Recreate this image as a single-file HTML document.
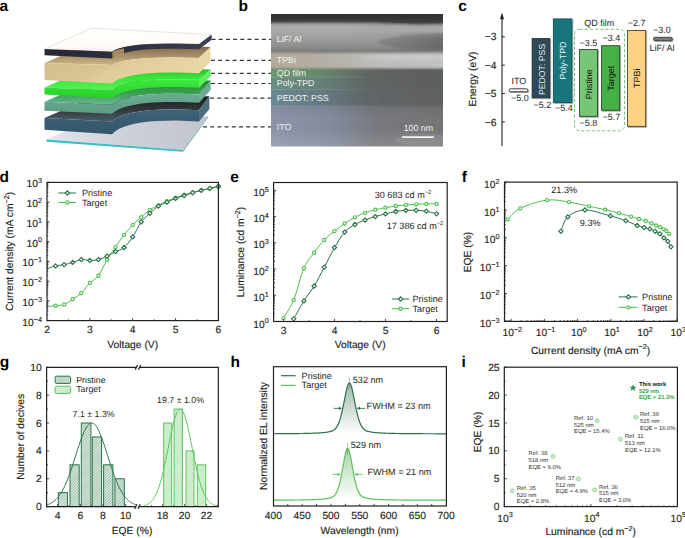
<!DOCTYPE html>
<html><head><meta charset="utf-8"><style>
html,body{margin:0;padding:0;background:#fff;width:685px;height:538px;overflow:hidden}
svg{display:block}
text{font-family:"Liberation Sans", sans-serif;text-rendering:geometricPrecision}
</style></head><body>
<svg width="685" height="538" viewBox="0 0 685 538">
<rect width="685" height="538" fill="#fff"/>
<text x="-0.6" y="181.7" font-size="15.5" font-weight="bold" fill="#000">d</text>
<path d="M47 306.4 C48.43 306.3 52.71 306.12 55.57 305.8 C58.43 305.48 61.28 305.6 64.14 304.5 C67 303.4 69.85 301.1 72.71 299.2 C75.57 297.3 78.42 295.82 81.28 293.1 C84.14 290.38 86.99 285.8 89.85 282.9 C92.71 280 95.56 279.55 98.42 275.7 C101.28 271.85 104.13 264.6 106.99 259.8 C109.85 255 112.7 251.07 115.56 246.9 C118.42 242.73 121.27 238.43 124.13 234.8 C126.99 231.17 129.84 228.03 132.7 225.1 C135.56 222.17 138.41 219.75 141.27 217.2 C144.13 214.65 146.98 211.77 149.84 209.8 C152.7 207.83 155.55 206.85 158.41 205.4 C161.27 203.95 164.12 202.37 166.98 201.1 C169.84 199.83 172.69 198.85 175.55 197.8 C178.41 196.75 181.26 195.68 184.12 194.8 C186.98 193.92 189.83 193.28 192.69 192.5 C195.55 191.72 198.4 190.75 201.26 190.1 C204.12 189.45 206.97 189.13 209.83 188.6 C212.69 188.07 216.97 187.18 218.4 186.9" fill="none" stroke="#4fbf4f" stroke-width="1"/>
<path d="M47 268.9 C48.43 268.4 52.71 266.6 55.57 265.9 C58.43 265.2 61.28 265.28 64.14 264.7 C67 264.12 69.85 263.25 72.71 262.4 C75.57 261.55 78.42 259.93 81.28 259.6 C84.14 259.27 86.99 260.4 89.85 260.4 C92.71 260.4 95.56 260.3 98.42 259.6 C101.28 258.9 104.13 257.53 106.99 256.2 C109.85 254.87 112.7 253.05 115.56 251.6 C118.42 250.15 121.27 249.95 124.13 247.5 C126.99 245.05 129.84 241.17 132.7 236.9 C135.56 232.63 138.41 225.83 141.27 221.9 C144.13 217.97 146.98 215.93 149.84 213.3 C152.7 210.67 155.55 207.95 158.41 206.1 C161.27 204.25 164.12 203.48 166.98 202.2 C169.84 200.92 172.69 199.52 175.55 198.4 C178.41 197.28 181.26 196.43 184.12 195.5 C186.98 194.57 189.83 193.65 192.69 192.8 C195.55 191.95 198.4 191.15 201.26 190.4 C204.12 189.65 206.97 189 209.83 188.3 C212.69 187.6 216.97 186.55 218.4 186.2" fill="none" stroke="#2b7249" stroke-width="1"/>
<circle cx="55.57" cy="305.8" r="1.6" fill="#fff" stroke="#4fbf4f" stroke-width="1.15"/>
<circle cx="64.14" cy="304.5" r="1.6" fill="#fff" stroke="#4fbf4f" stroke-width="1.15"/>
<circle cx="72.71" cy="299.2" r="1.6" fill="#fff" stroke="#4fbf4f" stroke-width="1.15"/>
<circle cx="81.28" cy="293.1" r="1.6" fill="#fff" stroke="#4fbf4f" stroke-width="1.15"/>
<circle cx="89.85" cy="282.9" r="1.6" fill="#fff" stroke="#4fbf4f" stroke-width="1.15"/>
<circle cx="98.42" cy="275.7" r="1.6" fill="#fff" stroke="#4fbf4f" stroke-width="1.15"/>
<circle cx="106.99" cy="259.8" r="1.6" fill="#fff" stroke="#4fbf4f" stroke-width="1.15"/>
<circle cx="115.56" cy="246.9" r="1.6" fill="#fff" stroke="#4fbf4f" stroke-width="1.15"/>
<circle cx="124.13" cy="234.8" r="1.6" fill="#fff" stroke="#4fbf4f" stroke-width="1.15"/>
<circle cx="132.7" cy="225.1" r="1.6" fill="#fff" stroke="#4fbf4f" stroke-width="1.15"/>
<circle cx="141.27" cy="217.2" r="1.6" fill="#fff" stroke="#4fbf4f" stroke-width="1.15"/>
<circle cx="149.84" cy="209.8" r="1.6" fill="#fff" stroke="#4fbf4f" stroke-width="1.15"/>
<circle cx="158.41" cy="205.4" r="1.6" fill="#fff" stroke="#4fbf4f" stroke-width="1.15"/>
<circle cx="166.98" cy="201.1" r="1.6" fill="#fff" stroke="#4fbf4f" stroke-width="1.15"/>
<circle cx="175.55" cy="197.8" r="1.6" fill="#fff" stroke="#4fbf4f" stroke-width="1.15"/>
<circle cx="184.12" cy="194.8" r="1.6" fill="#fff" stroke="#4fbf4f" stroke-width="1.15"/>
<circle cx="192.69" cy="192.5" r="1.6" fill="#fff" stroke="#4fbf4f" stroke-width="1.15"/>
<circle cx="201.26" cy="190.1" r="1.6" fill="#fff" stroke="#4fbf4f" stroke-width="1.15"/>
<circle cx="209.83" cy="188.6" r="1.6" fill="#fff" stroke="#4fbf4f" stroke-width="1.15"/>
<circle cx="218.4" cy="186.9" r="1.6" fill="#fff" stroke="#4fbf4f" stroke-width="1.15"/>
<path d="M55.57 263.8L57.67 265.9L55.57 268L53.47 265.9Z" fill="#fff" stroke="#2b7249" stroke-width="1.15"/>
<path d="M64.14 262.6L66.24 264.7L64.14 266.8L62.04 264.7Z" fill="#fff" stroke="#2b7249" stroke-width="1.15"/>
<path d="M72.71 260.3L74.81 262.4L72.71 264.5L70.61 262.4Z" fill="#fff" stroke="#2b7249" stroke-width="1.15"/>
<path d="M81.28 257.5L83.38 259.6L81.28 261.7L79.18 259.6Z" fill="#fff" stroke="#2b7249" stroke-width="1.15"/>
<path d="M89.85 258.3L91.95 260.4L89.85 262.5L87.75 260.4Z" fill="#fff" stroke="#2b7249" stroke-width="1.15"/>
<path d="M98.42 257.5L100.52 259.6L98.42 261.7L96.32 259.6Z" fill="#fff" stroke="#2b7249" stroke-width="1.15"/>
<path d="M106.99 254.1L109.09 256.2L106.99 258.3L104.89 256.2Z" fill="#fff" stroke="#2b7249" stroke-width="1.15"/>
<path d="M115.56 249.5L117.66 251.6L115.56 253.7L113.46 251.6Z" fill="#fff" stroke="#2b7249" stroke-width="1.15"/>
<path d="M124.13 245.4L126.23 247.5L124.13 249.6L122.03 247.5Z" fill="#fff" stroke="#2b7249" stroke-width="1.15"/>
<path d="M132.7 234.8L134.8 236.9L132.7 239L130.6 236.9Z" fill="#fff" stroke="#2b7249" stroke-width="1.15"/>
<path d="M141.27 219.8L143.37 221.9L141.27 224L139.17 221.9Z" fill="#fff" stroke="#2b7249" stroke-width="1.15"/>
<path d="M149.84 211.2L151.94 213.3L149.84 215.4L147.74 213.3Z" fill="#fff" stroke="#2b7249" stroke-width="1.15"/>
<path d="M158.41 204L160.51 206.1L158.41 208.2L156.31 206.1Z" fill="#fff" stroke="#2b7249" stroke-width="1.15"/>
<path d="M166.98 200.1L169.08 202.2L166.98 204.3L164.88 202.2Z" fill="#fff" stroke="#2b7249" stroke-width="1.15"/>
<path d="M175.55 196.3L177.65 198.4L175.55 200.5L173.45 198.4Z" fill="#fff" stroke="#2b7249" stroke-width="1.15"/>
<path d="M184.12 193.4L186.22 195.5L184.12 197.6L182.02 195.5Z" fill="#fff" stroke="#2b7249" stroke-width="1.15"/>
<path d="M192.69 190.7L194.79 192.8L192.69 194.9L190.59 192.8Z" fill="#fff" stroke="#2b7249" stroke-width="1.15"/>
<path d="M201.26 188.3L203.36 190.4L201.26 192.5L199.16 190.4Z" fill="#fff" stroke="#2b7249" stroke-width="1.15"/>
<path d="M209.83 186.2L211.93 188.3L209.83 190.4L207.73 188.3Z" fill="#fff" stroke="#2b7249" stroke-width="1.15"/>
<path d="M218.4 184.1L220.5 186.2L218.4 188.3L216.3 186.2Z" fill="#fff" stroke="#2b7249" stroke-width="1.15"/>
<line x1="47" y1="320.6" x2="49.5" y2="320.6" stroke="#231f20" stroke-width="0.8"/>
<line x1="47" y1="314.66" x2="48.3" y2="314.66" stroke="#231f20" stroke-width="0.8"/>
<line x1="47" y1="311.18" x2="48.3" y2="311.18" stroke="#231f20" stroke-width="0.8"/>
<line x1="47" y1="308.71" x2="48.3" y2="308.71" stroke="#231f20" stroke-width="0.8"/>
<line x1="47" y1="306.8" x2="48.3" y2="306.8" stroke="#231f20" stroke-width="0.8"/>
<line x1="47" y1="305.24" x2="48.3" y2="305.24" stroke="#231f20" stroke-width="0.8"/>
<line x1="47" y1="303.92" x2="48.3" y2="303.92" stroke="#231f20" stroke-width="0.8"/>
<line x1="47" y1="302.77" x2="48.3" y2="302.77" stroke="#231f20" stroke-width="0.8"/>
<line x1="47" y1="301.76" x2="48.3" y2="301.76" stroke="#231f20" stroke-width="0.8"/>
<line x1="47" y1="300.86" x2="49.5" y2="300.86" stroke="#231f20" stroke-width="0.8"/>
<line x1="47" y1="294.91" x2="48.3" y2="294.91" stroke="#231f20" stroke-width="0.8"/>
<line x1="47" y1="291.44" x2="48.3" y2="291.44" stroke="#231f20" stroke-width="0.8"/>
<line x1="47" y1="288.97" x2="48.3" y2="288.97" stroke="#231f20" stroke-width="0.8"/>
<line x1="47" y1="287.06" x2="48.3" y2="287.06" stroke="#231f20" stroke-width="0.8"/>
<line x1="47" y1="285.49" x2="48.3" y2="285.49" stroke="#231f20" stroke-width="0.8"/>
<line x1="47" y1="284.17" x2="48.3" y2="284.17" stroke="#231f20" stroke-width="0.8"/>
<line x1="47" y1="283.03" x2="48.3" y2="283.03" stroke="#231f20" stroke-width="0.8"/>
<line x1="47" y1="282.02" x2="48.3" y2="282.02" stroke="#231f20" stroke-width="0.8"/>
<line x1="47" y1="281.11" x2="49.5" y2="281.11" stroke="#231f20" stroke-width="0.8"/>
<line x1="47" y1="275.17" x2="48.3" y2="275.17" stroke="#231f20" stroke-width="0.8"/>
<line x1="47" y1="271.69" x2="48.3" y2="271.69" stroke="#231f20" stroke-width="0.8"/>
<line x1="47" y1="269.23" x2="48.3" y2="269.23" stroke="#231f20" stroke-width="0.8"/>
<line x1="47" y1="267.31" x2="48.3" y2="267.31" stroke="#231f20" stroke-width="0.8"/>
<line x1="47" y1="265.75" x2="48.3" y2="265.75" stroke="#231f20" stroke-width="0.8"/>
<line x1="47" y1="264.43" x2="48.3" y2="264.43" stroke="#231f20" stroke-width="0.8"/>
<line x1="47" y1="263.28" x2="48.3" y2="263.28" stroke="#231f20" stroke-width="0.8"/>
<line x1="47" y1="262.27" x2="48.3" y2="262.27" stroke="#231f20" stroke-width="0.8"/>
<line x1="47" y1="261.37" x2="49.5" y2="261.37" stroke="#231f20" stroke-width="0.8"/>
<line x1="47" y1="255.43" x2="48.3" y2="255.43" stroke="#231f20" stroke-width="0.8"/>
<line x1="47" y1="251.95" x2="48.3" y2="251.95" stroke="#231f20" stroke-width="0.8"/>
<line x1="47" y1="249.49" x2="48.3" y2="249.49" stroke="#231f20" stroke-width="0.8"/>
<line x1="47" y1="247.57" x2="48.3" y2="247.57" stroke="#231f20" stroke-width="0.8"/>
<line x1="47" y1="246.01" x2="48.3" y2="246.01" stroke="#231f20" stroke-width="0.8"/>
<line x1="47" y1="244.69" x2="48.3" y2="244.69" stroke="#231f20" stroke-width="0.8"/>
<line x1="47" y1="243.54" x2="48.3" y2="243.54" stroke="#231f20" stroke-width="0.8"/>
<line x1="47" y1="242.53" x2="48.3" y2="242.53" stroke="#231f20" stroke-width="0.8"/>
<line x1="47" y1="241.63" x2="49.5" y2="241.63" stroke="#231f20" stroke-width="0.8"/>
<line x1="47" y1="235.69" x2="48.3" y2="235.69" stroke="#231f20" stroke-width="0.8"/>
<line x1="47" y1="232.21" x2="48.3" y2="232.21" stroke="#231f20" stroke-width="0.8"/>
<line x1="47" y1="229.74" x2="48.3" y2="229.74" stroke="#231f20" stroke-width="0.8"/>
<line x1="47" y1="227.83" x2="48.3" y2="227.83" stroke="#231f20" stroke-width="0.8"/>
<line x1="47" y1="226.27" x2="48.3" y2="226.27" stroke="#231f20" stroke-width="0.8"/>
<line x1="47" y1="224.94" x2="48.3" y2="224.94" stroke="#231f20" stroke-width="0.8"/>
<line x1="47" y1="223.8" x2="48.3" y2="223.8" stroke="#231f20" stroke-width="0.8"/>
<line x1="47" y1="222.79" x2="48.3" y2="222.79" stroke="#231f20" stroke-width="0.8"/>
<line x1="47" y1="221.89" x2="49.5" y2="221.89" stroke="#231f20" stroke-width="0.8"/>
<line x1="47" y1="215.94" x2="48.3" y2="215.94" stroke="#231f20" stroke-width="0.8"/>
<line x1="47" y1="212.47" x2="48.3" y2="212.47" stroke="#231f20" stroke-width="0.8"/>
<line x1="47" y1="210" x2="48.3" y2="210" stroke="#231f20" stroke-width="0.8"/>
<line x1="47" y1="208.09" x2="48.3" y2="208.09" stroke="#231f20" stroke-width="0.8"/>
<line x1="47" y1="206.52" x2="48.3" y2="206.52" stroke="#231f20" stroke-width="0.8"/>
<line x1="47" y1="205.2" x2="48.3" y2="205.2" stroke="#231f20" stroke-width="0.8"/>
<line x1="47" y1="204.06" x2="48.3" y2="204.06" stroke="#231f20" stroke-width="0.8"/>
<line x1="47" y1="203.05" x2="48.3" y2="203.05" stroke="#231f20" stroke-width="0.8"/>
<line x1="47" y1="202.14" x2="49.5" y2="202.14" stroke="#231f20" stroke-width="0.8"/>
<line x1="47" y1="196.2" x2="48.3" y2="196.2" stroke="#231f20" stroke-width="0.8"/>
<line x1="47" y1="192.72" x2="48.3" y2="192.72" stroke="#231f20" stroke-width="0.8"/>
<line x1="47" y1="190.26" x2="48.3" y2="190.26" stroke="#231f20" stroke-width="0.8"/>
<line x1="47" y1="188.34" x2="48.3" y2="188.34" stroke="#231f20" stroke-width="0.8"/>
<line x1="47" y1="186.78" x2="48.3" y2="186.78" stroke="#231f20" stroke-width="0.8"/>
<line x1="47" y1="185.46" x2="48.3" y2="185.46" stroke="#231f20" stroke-width="0.8"/>
<line x1="47" y1="184.31" x2="48.3" y2="184.31" stroke="#231f20" stroke-width="0.8"/>
<line x1="47" y1="183.3" x2="48.3" y2="183.3" stroke="#231f20" stroke-width="0.8"/>
<line x1="47" y1="182.4" x2="49.5" y2="182.4" stroke="#231f20" stroke-width="0.8"/>
<line x1="68.42" y1="320.6" x2="68.42" y2="319.3" stroke="#231f20" stroke-width="0.8"/>
<line x1="89.85" y1="320.6" x2="89.85" y2="318.1" stroke="#231f20" stroke-width="0.8"/>
<line x1="111.28" y1="320.6" x2="111.28" y2="319.3" stroke="#231f20" stroke-width="0.8"/>
<line x1="132.7" y1="320.6" x2="132.7" y2="318.1" stroke="#231f20" stroke-width="0.8"/>
<line x1="154.12" y1="320.6" x2="154.12" y2="319.3" stroke="#231f20" stroke-width="0.8"/>
<line x1="175.55" y1="320.6" x2="175.55" y2="318.1" stroke="#231f20" stroke-width="0.8"/>
<line x1="196.97" y1="320.6" x2="196.97" y2="319.3" stroke="#231f20" stroke-width="0.8"/>
<line x1="218.4" y1="320.6" x2="218.4" y2="318.1" stroke="#231f20" stroke-width="0.8"/>
<rect x="47" y="182.4" width="171.4" height="138.2" fill="none" stroke="#231f20" stroke-width="1.2"/>
<text x="42" y="326.03" font-size="10.3" text-anchor="end" fill="#231f20" stroke="#231f20" stroke-width="0.15">10<tspan dy="-4.1" font-size="7.2">&#8722;4</tspan></text>
<text x="42" y="306.15" font-size="10.3" text-anchor="end" fill="#231f20" stroke="#231f20" stroke-width="0.15">10<tspan dy="-4.1" font-size="7.2">&#8722;3</tspan></text>
<text x="42" y="286.26" font-size="10.3" text-anchor="end" fill="#231f20" stroke="#231f20" stroke-width="0.15">10<tspan dy="-4.1" font-size="7.2">&#8722;2</tspan></text>
<text x="42" y="266.38" font-size="10.3" text-anchor="end" fill="#231f20" stroke="#231f20" stroke-width="0.15">10<tspan dy="-4.1" font-size="7.2">&#8722;1</tspan></text>
<text x="42" y="246.5" font-size="10.3" text-anchor="end" fill="#231f20" stroke="#231f20" stroke-width="0.15">10<tspan dy="-4.1" font-size="7.2">0</tspan></text>
<text x="42" y="226.62" font-size="10.3" text-anchor="end" fill="#231f20" stroke="#231f20" stroke-width="0.15">10<tspan dy="-4.1" font-size="7.2">1</tspan></text>
<text x="42" y="206.73" font-size="10.3" text-anchor="end" fill="#231f20" stroke="#231f20" stroke-width="0.15">10<tspan dy="-4.1" font-size="7.2">2</tspan></text>
<text x="42" y="186.85" font-size="10.3" text-anchor="end" fill="#231f20" stroke="#231f20" stroke-width="0.15">10<tspan dy="-4.1" font-size="7.2">3</tspan></text>
<text x="47" y="333.1" font-size="10.3" text-anchor="middle" fill="#231f20" stroke="#231f20" stroke-width="0.15">2</text>
<text x="89.85" y="333.1" font-size="10.3" text-anchor="middle" fill="#231f20" stroke="#231f20" stroke-width="0.15">3</text>
<text x="132.7" y="333.1" font-size="10.3" text-anchor="middle" fill="#231f20" stroke="#231f20" stroke-width="0.15">4</text>
<text x="175.55" y="333.1" font-size="10.3" text-anchor="middle" fill="#231f20" stroke="#231f20" stroke-width="0.15">5</text>
<text x="218.4" y="333.1" font-size="10.3" text-anchor="middle" fill="#231f20" stroke="#231f20" stroke-width="0.15">6</text>
<text x="132.7" y="347.6" font-size="10.3" text-anchor="middle" fill="#231f20" stroke="#231f20" stroke-width="0.15">Voltage (V)</text>
<text x="13" y="251.5" font-size="10.3" text-anchor="middle" fill="#231f20" stroke="#231f20" stroke-width="0.15" transform="rotate(-90 13 251.5)">Current density (mA cm<tspan dy="-4.1" font-size="7.2">&#8722;2</tspan><tspan dy="4.1">)</tspan></text>
<line x1="58.4" y1="193" x2="76.1" y2="193" stroke="#2b7249" stroke-width="1"/>
<path d="M67.4 190.9L69.5 193L67.4 195.1L65.3 193Z" fill="#fff" stroke="#2b7249" stroke-width="1.15"/>
<text x="81.9" y="196.1" font-size="9.1" fill="#231f20">Pristine</text>
<line x1="58.4" y1="202.5" x2="76.1" y2="202.5" stroke="#4fbf4f" stroke-width="1"/>
<circle cx="67.4" cy="202.5" r="1.6" fill="#fff" stroke="#4fbf4f" stroke-width="1.15"/>
<text x="81.9" y="205.6" font-size="9.1" fill="#231f20">Target</text>
<text x="230.2" y="181.7" font-size="15.5" font-weight="bold" fill="#000">e</text>
<path d="M283.5 318.1 C285.2 315.07 290.3 308.22 293.7 299.9 C297.1 291.58 300.5 276.07 303.9 268.2 C307.3 260.33 310.7 257.4 314.1 252.7 C317.5 248 320.9 243.6 324.3 240 C327.7 236.4 331.1 233.85 334.5 231.1 C337.9 228.35 341.3 225.8 344.7 223.5 C348.1 221.2 351.5 219.08 354.9 217.3 C358.3 215.52 361.7 214.07 365.1 212.8 C368.5 211.53 371.9 210.55 375.3 209.7 C378.7 208.85 382.1 208.32 385.5 207.7 C388.9 207.08 392.3 206.47 395.7 206 C399.1 205.53 402.5 205.18 405.9 204.9 C409.3 204.62 412.7 204.48 416.1 204.3 C419.5 204.12 422.9 203.88 426.3 203.8 C429.7 203.72 434.8 203.8 436.5 203.8" fill="none" stroke="#4fbf4f" stroke-width="1"/>
<path d="M293.7 318.8 C295.4 315.82 300.5 306.35 303.9 300.9 C307.3 295.45 310.7 291.72 314.1 286.1 C317.5 280.48 320.9 273.62 324.3 267.2 C327.7 260.78 331.1 253.45 334.5 247.6 C337.9 241.75 341.3 235.95 344.7 232.1 C348.1 228.25 351.5 226.5 354.9 224.5 C358.3 222.5 361.7 221.42 365.1 220.1 C368.5 218.78 371.9 217.63 375.3 216.6 C378.7 215.57 382.1 214.75 385.5 213.9 C388.9 213.05 392.3 212.08 395.7 211.5 C399.1 210.92 402.5 210.6 405.9 210.4 C409.3 210.2 412.7 210.17 416.1 210.3 C419.5 210.43 422.9 210.62 426.3 211.2 C429.7 211.78 434.8 213.37 436.5 213.8" fill="none" stroke="#2b7249" stroke-width="1"/>
<circle cx="283.5" cy="318.1" r="1.6" fill="#fff" stroke="#4fbf4f" stroke-width="1.15"/>
<circle cx="293.7" cy="299.9" r="1.6" fill="#fff" stroke="#4fbf4f" stroke-width="1.15"/>
<circle cx="303.9" cy="268.2" r="1.6" fill="#fff" stroke="#4fbf4f" stroke-width="1.15"/>
<circle cx="314.1" cy="252.7" r="1.6" fill="#fff" stroke="#4fbf4f" stroke-width="1.15"/>
<circle cx="324.3" cy="240" r="1.6" fill="#fff" stroke="#4fbf4f" stroke-width="1.15"/>
<circle cx="334.5" cy="231.1" r="1.6" fill="#fff" stroke="#4fbf4f" stroke-width="1.15"/>
<circle cx="344.7" cy="223.5" r="1.6" fill="#fff" stroke="#4fbf4f" stroke-width="1.15"/>
<circle cx="354.9" cy="217.3" r="1.6" fill="#fff" stroke="#4fbf4f" stroke-width="1.15"/>
<circle cx="365.1" cy="212.8" r="1.6" fill="#fff" stroke="#4fbf4f" stroke-width="1.15"/>
<circle cx="375.3" cy="209.7" r="1.6" fill="#fff" stroke="#4fbf4f" stroke-width="1.15"/>
<circle cx="385.5" cy="207.7" r="1.6" fill="#fff" stroke="#4fbf4f" stroke-width="1.15"/>
<circle cx="395.7" cy="206" r="1.6" fill="#fff" stroke="#4fbf4f" stroke-width="1.15"/>
<circle cx="405.9" cy="204.9" r="1.6" fill="#fff" stroke="#4fbf4f" stroke-width="1.15"/>
<circle cx="416.1" cy="204.3" r="1.6" fill="#fff" stroke="#4fbf4f" stroke-width="1.15"/>
<circle cx="426.3" cy="203.8" r="1.6" fill="#fff" stroke="#4fbf4f" stroke-width="1.15"/>
<circle cx="436.5" cy="203.8" r="1.6" fill="#fff" stroke="#4fbf4f" stroke-width="1.15"/>
<path d="M293.7 316.7L295.8 318.8L293.7 320.9L291.6 318.8Z" fill="#fff" stroke="#2b7249" stroke-width="1.15"/>
<path d="M303.9 298.8L306 300.9L303.9 303L301.8 300.9Z" fill="#fff" stroke="#2b7249" stroke-width="1.15"/>
<path d="M314.1 284L316.2 286.1L314.1 288.2L312 286.1Z" fill="#fff" stroke="#2b7249" stroke-width="1.15"/>
<path d="M324.3 265.1L326.4 267.2L324.3 269.3L322.2 267.2Z" fill="#fff" stroke="#2b7249" stroke-width="1.15"/>
<path d="M334.5 245.5L336.6 247.6L334.5 249.7L332.4 247.6Z" fill="#fff" stroke="#2b7249" stroke-width="1.15"/>
<path d="M344.7 230L346.8 232.1L344.7 234.2L342.6 232.1Z" fill="#fff" stroke="#2b7249" stroke-width="1.15"/>
<path d="M354.9 222.4L357 224.5L354.9 226.6L352.8 224.5Z" fill="#fff" stroke="#2b7249" stroke-width="1.15"/>
<path d="M365.1 218L367.2 220.1L365.1 222.2L363 220.1Z" fill="#fff" stroke="#2b7249" stroke-width="1.15"/>
<path d="M375.3 214.5L377.4 216.6L375.3 218.7L373.2 216.6Z" fill="#fff" stroke="#2b7249" stroke-width="1.15"/>
<path d="M385.5 211.8L387.6 213.9L385.5 216L383.4 213.9Z" fill="#fff" stroke="#2b7249" stroke-width="1.15"/>
<path d="M395.7 209.4L397.8 211.5L395.7 213.6L393.6 211.5Z" fill="#fff" stroke="#2b7249" stroke-width="1.15"/>
<path d="M405.9 208.3L408 210.4L405.9 212.5L403.8 210.4Z" fill="#fff" stroke="#2b7249" stroke-width="1.15"/>
<path d="M416.1 208.2L418.2 210.3L416.1 212.4L414 210.3Z" fill="#fff" stroke="#2b7249" stroke-width="1.15"/>
<path d="M426.3 209.1L428.4 211.2L426.3 213.3L424.2 211.2Z" fill="#fff" stroke="#2b7249" stroke-width="1.15"/>
<path d="M436.5 211.7L438.6 213.8L436.5 215.9L434.4 213.8Z" fill="#fff" stroke="#2b7249" stroke-width="1.15"/>
<line x1="273.6" y1="321.5" x2="276.1" y2="321.5" stroke="#231f20" stroke-width="0.8"/>
<line x1="273.6" y1="313.61" x2="274.9" y2="313.61" stroke="#231f20" stroke-width="0.8"/>
<line x1="273.6" y1="308.99" x2="274.9" y2="308.99" stroke="#231f20" stroke-width="0.8"/>
<line x1="273.6" y1="305.71" x2="274.9" y2="305.71" stroke="#231f20" stroke-width="0.8"/>
<line x1="273.6" y1="303.17" x2="274.9" y2="303.17" stroke="#231f20" stroke-width="0.8"/>
<line x1="273.6" y1="301.1" x2="274.9" y2="301.1" stroke="#231f20" stroke-width="0.8"/>
<line x1="273.6" y1="299.34" x2="274.9" y2="299.34" stroke="#231f20" stroke-width="0.8"/>
<line x1="273.6" y1="297.82" x2="274.9" y2="297.82" stroke="#231f20" stroke-width="0.8"/>
<line x1="273.6" y1="296.48" x2="274.9" y2="296.48" stroke="#231f20" stroke-width="0.8"/>
<line x1="273.6" y1="295.28" x2="276.1" y2="295.28" stroke="#231f20" stroke-width="0.8"/>
<line x1="273.6" y1="287.39" x2="274.9" y2="287.39" stroke="#231f20" stroke-width="0.8"/>
<line x1="273.6" y1="282.77" x2="274.9" y2="282.77" stroke="#231f20" stroke-width="0.8"/>
<line x1="273.6" y1="279.49" x2="274.9" y2="279.49" stroke="#231f20" stroke-width="0.8"/>
<line x1="273.6" y1="276.95" x2="274.9" y2="276.95" stroke="#231f20" stroke-width="0.8"/>
<line x1="273.6" y1="274.88" x2="274.9" y2="274.88" stroke="#231f20" stroke-width="0.8"/>
<line x1="273.6" y1="273.12" x2="274.9" y2="273.12" stroke="#231f20" stroke-width="0.8"/>
<line x1="273.6" y1="271.6" x2="274.9" y2="271.6" stroke="#231f20" stroke-width="0.8"/>
<line x1="273.6" y1="270.26" x2="274.9" y2="270.26" stroke="#231f20" stroke-width="0.8"/>
<line x1="273.6" y1="269.06" x2="276.1" y2="269.06" stroke="#231f20" stroke-width="0.8"/>
<line x1="273.6" y1="261.17" x2="274.9" y2="261.17" stroke="#231f20" stroke-width="0.8"/>
<line x1="273.6" y1="256.55" x2="274.9" y2="256.55" stroke="#231f20" stroke-width="0.8"/>
<line x1="273.6" y1="253.27" x2="274.9" y2="253.27" stroke="#231f20" stroke-width="0.8"/>
<line x1="273.6" y1="250.73" x2="274.9" y2="250.73" stroke="#231f20" stroke-width="0.8"/>
<line x1="273.6" y1="248.66" x2="274.9" y2="248.66" stroke="#231f20" stroke-width="0.8"/>
<line x1="273.6" y1="246.9" x2="274.9" y2="246.9" stroke="#231f20" stroke-width="0.8"/>
<line x1="273.6" y1="245.38" x2="274.9" y2="245.38" stroke="#231f20" stroke-width="0.8"/>
<line x1="273.6" y1="244.04" x2="274.9" y2="244.04" stroke="#231f20" stroke-width="0.8"/>
<line x1="273.6" y1="242.84" x2="276.1" y2="242.84" stroke="#231f20" stroke-width="0.8"/>
<line x1="273.6" y1="234.95" x2="274.9" y2="234.95" stroke="#231f20" stroke-width="0.8"/>
<line x1="273.6" y1="230.33" x2="274.9" y2="230.33" stroke="#231f20" stroke-width="0.8"/>
<line x1="273.6" y1="227.05" x2="274.9" y2="227.05" stroke="#231f20" stroke-width="0.8"/>
<line x1="273.6" y1="224.51" x2="274.9" y2="224.51" stroke="#231f20" stroke-width="0.8"/>
<line x1="273.6" y1="222.44" x2="274.9" y2="222.44" stroke="#231f20" stroke-width="0.8"/>
<line x1="273.6" y1="220.68" x2="274.9" y2="220.68" stroke="#231f20" stroke-width="0.8"/>
<line x1="273.6" y1="219.16" x2="274.9" y2="219.16" stroke="#231f20" stroke-width="0.8"/>
<line x1="273.6" y1="217.82" x2="274.9" y2="217.82" stroke="#231f20" stroke-width="0.8"/>
<line x1="273.6" y1="216.62" x2="276.1" y2="216.62" stroke="#231f20" stroke-width="0.8"/>
<line x1="273.6" y1="208.73" x2="274.9" y2="208.73" stroke="#231f20" stroke-width="0.8"/>
<line x1="273.6" y1="204.11" x2="274.9" y2="204.11" stroke="#231f20" stroke-width="0.8"/>
<line x1="273.6" y1="200.83" x2="274.9" y2="200.83" stroke="#231f20" stroke-width="0.8"/>
<line x1="273.6" y1="198.29" x2="274.9" y2="198.29" stroke="#231f20" stroke-width="0.8"/>
<line x1="273.6" y1="196.22" x2="274.9" y2="196.22" stroke="#231f20" stroke-width="0.8"/>
<line x1="273.6" y1="194.46" x2="274.9" y2="194.46" stroke="#231f20" stroke-width="0.8"/>
<line x1="273.6" y1="192.94" x2="274.9" y2="192.94" stroke="#231f20" stroke-width="0.8"/>
<line x1="273.6" y1="191.6" x2="274.9" y2="191.6" stroke="#231f20" stroke-width="0.8"/>
<line x1="273.6" y1="190.4" x2="276.1" y2="190.4" stroke="#231f20" stroke-width="0.8"/>
<line x1="283.5" y1="321.5" x2="283.5" y2="319" stroke="#231f20" stroke-width="0.8"/>
<line x1="309" y1="321.5" x2="309" y2="320.2" stroke="#231f20" stroke-width="0.8"/>
<line x1="334.5" y1="321.5" x2="334.5" y2="319" stroke="#231f20" stroke-width="0.8"/>
<line x1="360" y1="321.5" x2="360" y2="320.2" stroke="#231f20" stroke-width="0.8"/>
<line x1="385.5" y1="321.5" x2="385.5" y2="319" stroke="#231f20" stroke-width="0.8"/>
<line x1="411" y1="321.5" x2="411" y2="320.2" stroke="#231f20" stroke-width="0.8"/>
<line x1="436.5" y1="321.5" x2="436.5" y2="319" stroke="#231f20" stroke-width="0.8"/>
<rect x="273.6" y="182.5" width="173.6" height="139" fill="none" stroke="#231f20" stroke-width="1.2"/>
<text x="268.8" y="327.5" font-size="10.3" text-anchor="end" fill="#231f20" stroke="#231f20" stroke-width="0.15">10<tspan dy="-4.1" font-size="7.2">0</tspan></text>
<text x="268.8" y="301.14" font-size="10.3" text-anchor="end" fill="#231f20" stroke="#231f20" stroke-width="0.15">10<tspan dy="-4.1" font-size="7.2">1</tspan></text>
<text x="268.8" y="274.78" font-size="10.3" text-anchor="end" fill="#231f20" stroke="#231f20" stroke-width="0.15">10<tspan dy="-4.1" font-size="7.2">2</tspan></text>
<text x="268.8" y="248.42" font-size="10.3" text-anchor="end" fill="#231f20" stroke="#231f20" stroke-width="0.15">10<tspan dy="-4.1" font-size="7.2">3</tspan></text>
<text x="268.8" y="222.06" font-size="10.3" text-anchor="end" fill="#231f20" stroke="#231f20" stroke-width="0.15">10<tspan dy="-4.1" font-size="7.2">4</tspan></text>
<text x="268.8" y="195.7" font-size="10.3" text-anchor="end" fill="#231f20" stroke="#231f20" stroke-width="0.15">10<tspan dy="-4.1" font-size="7.2">5</tspan></text>
<text x="283.5" y="333.6" font-size="10.3" text-anchor="middle" fill="#231f20" stroke="#231f20" stroke-width="0.15">3</text>
<text x="334.5" y="333.6" font-size="10.3" text-anchor="middle" fill="#231f20" stroke="#231f20" stroke-width="0.15">4</text>
<text x="385.5" y="333.6" font-size="10.3" text-anchor="middle" fill="#231f20" stroke="#231f20" stroke-width="0.15">5</text>
<text x="436.5" y="333.6" font-size="10.3" text-anchor="middle" fill="#231f20" stroke="#231f20" stroke-width="0.15">6</text>
<text x="360.2" y="347.6" font-size="10.3" text-anchor="middle" fill="#231f20" stroke="#231f20" stroke-width="0.15">Voltage (V)</text>
<text x="244" y="252" font-size="10.3" text-anchor="middle" fill="#231f20" stroke="#231f20" stroke-width="0.15" transform="rotate(-90 244 252)">Luminance (cd m<tspan dy="-4.1" font-size="7.2">&#8722;2</tspan><tspan dy="4.1">)</tspan></text>
<text x="374.7" y="197.7" font-size="9.1" fill="#231f20">30 683 cd m<tspan dy="-3.6" font-size="5.8">&#8722;2</tspan></text>
<text x="386.7" y="228.7" font-size="9.1" fill="#231f20">17 386 cd m<tspan dy="-3.6" font-size="5.8">&#8722;2</tspan></text>
<line x1="391.9" y1="299" x2="409.1" y2="299" stroke="#2b7249" stroke-width="1"/>
<path d="M400.5 296.9L402.6 299L400.5 301.1L398.4 299Z" fill="#fff" stroke="#2b7249" stroke-width="1.15"/>
<text x="412.5" y="302.1" font-size="9.1" fill="#231f20">Pristine</text>
<line x1="391.9" y1="308.7" x2="409.1" y2="308.7" stroke="#4fbf4f" stroke-width="1"/>
<circle cx="400.5" cy="308.7" r="1.6" fill="#fff" stroke="#4fbf4f" stroke-width="1.15"/>
<text x="412.5" y="311.8" font-size="9.1" fill="#231f20">Target</text>
<text x="461.8" y="181.7" font-size="15.5" font-weight="bold" fill="#000">f</text>
<path d="M507.6 219.3 C509.72 217.47 513.72 211.5 520.3 208.3 C526.88 205.1 538.97 201.13 547.1 200.1 C555.23 199.07 562.1 201.07 569.1 202.1 C576.1 203.13 583.08 205.03 589.1 206.3 C595.12 207.57 600.22 208.57 605.2 209.7 C610.18 210.83 614.7 211.95 619 213.1 C623.3 214.25 627.68 215.62 631 216.6 C634.32 217.58 636.43 218.27 638.9 219 C641.37 219.73 643.68 220.27 645.8 221 C647.92 221.73 649.88 222.65 651.6 223.4 C653.32 224.15 654.67 224.87 656.1 225.5 C657.53 226.13 658.93 226.57 660.2 227.2 C661.47 227.83 662.67 228.67 663.7 229.3 C664.73 229.93 665.48 230.25 666.4 231 C667.32 231.75 668.73 233.33 669.2 233.8" fill="none" stroke="#4fbf4f" stroke-width="1"/>
<path d="M560.9 231.3 C562.05 228.9 563.8 220.45 567.8 216.9 C571.8 213.35 577.8 210.17 584.9 210 C592 209.83 603.58 214.12 610.4 215.9 C617.22 217.68 621.33 219.1 625.8 220.7 C630.27 222.3 634.15 224.35 637.2 225.5 C640.25 226.65 641.98 227.03 644.1 227.6 C646.22 228.17 648.07 228.28 649.9 228.9 C651.73 229.52 653.43 230.48 655.1 231.3 C656.77 232.12 658.42 232.7 659.9 233.8 C661.38 234.9 662.68 236.65 664 237.9 C665.32 239.15 666.65 239.82 667.8 241.3 C668.95 242.78 670.38 245.88 670.9 246.8" fill="none" stroke="#2b7249" stroke-width="1"/>
<circle cx="507.6" cy="219.3" r="1.6" fill="#fff" stroke="#4fbf4f" stroke-width="1.15"/>
<circle cx="520.3" cy="208.3" r="1.6" fill="#fff" stroke="#4fbf4f" stroke-width="1.15"/>
<circle cx="547.1" cy="200.1" r="1.6" fill="#fff" stroke="#4fbf4f" stroke-width="1.15"/>
<circle cx="569.1" cy="202.1" r="1.6" fill="#fff" stroke="#4fbf4f" stroke-width="1.15"/>
<circle cx="589.1" cy="206.3" r="1.6" fill="#fff" stroke="#4fbf4f" stroke-width="1.15"/>
<circle cx="605.2" cy="209.7" r="1.6" fill="#fff" stroke="#4fbf4f" stroke-width="1.15"/>
<circle cx="619" cy="213.1" r="1.6" fill="#fff" stroke="#4fbf4f" stroke-width="1.15"/>
<circle cx="631" cy="216.6" r="1.6" fill="#fff" stroke="#4fbf4f" stroke-width="1.15"/>
<circle cx="638.9" cy="219" r="1.6" fill="#fff" stroke="#4fbf4f" stroke-width="1.15"/>
<circle cx="645.8" cy="221" r="1.6" fill="#fff" stroke="#4fbf4f" stroke-width="1.15"/>
<circle cx="651.6" cy="223.4" r="1.6" fill="#fff" stroke="#4fbf4f" stroke-width="1.15"/>
<circle cx="656.1" cy="225.5" r="1.6" fill="#fff" stroke="#4fbf4f" stroke-width="1.15"/>
<circle cx="660.2" cy="227.2" r="1.6" fill="#fff" stroke="#4fbf4f" stroke-width="1.15"/>
<circle cx="663.7" cy="229.3" r="1.6" fill="#fff" stroke="#4fbf4f" stroke-width="1.15"/>
<circle cx="666.4" cy="231" r="1.6" fill="#fff" stroke="#4fbf4f" stroke-width="1.15"/>
<circle cx="669.2" cy="233.8" r="1.6" fill="#fff" stroke="#4fbf4f" stroke-width="1.15"/>
<path d="M560.9 229.2L563 231.3L560.9 233.4L558.8 231.3Z" fill="#fff" stroke="#2b7249" stroke-width="1.15"/>
<path d="M567.8 214.8L569.9 216.9L567.8 219L565.7 216.9Z" fill="#fff" stroke="#2b7249" stroke-width="1.15"/>
<path d="M584.9 207.9L587 210L584.9 212.1L582.8 210Z" fill="#fff" stroke="#2b7249" stroke-width="1.15"/>
<path d="M610.4 213.8L612.5 215.9L610.4 218L608.3 215.9Z" fill="#fff" stroke="#2b7249" stroke-width="1.15"/>
<path d="M625.8 218.6L627.9 220.7L625.8 222.8L623.7 220.7Z" fill="#fff" stroke="#2b7249" stroke-width="1.15"/>
<path d="M637.2 223.4L639.3 225.5L637.2 227.6L635.1 225.5Z" fill="#fff" stroke="#2b7249" stroke-width="1.15"/>
<path d="M644.1 225.5L646.2 227.6L644.1 229.7L642 227.6Z" fill="#fff" stroke="#2b7249" stroke-width="1.15"/>
<path d="M649.9 226.8L652 228.9L649.9 231L647.8 228.9Z" fill="#fff" stroke="#2b7249" stroke-width="1.15"/>
<path d="M655.1 229.2L657.2 231.3L655.1 233.4L653 231.3Z" fill="#fff" stroke="#2b7249" stroke-width="1.15"/>
<path d="M659.9 231.7L662 233.8L659.9 235.9L657.8 233.8Z" fill="#fff" stroke="#2b7249" stroke-width="1.15"/>
<path d="M664 235.8L666.1 237.9L664 240L661.9 237.9Z" fill="#fff" stroke="#2b7249" stroke-width="1.15"/>
<path d="M667.8 239.2L669.9 241.3L667.8 243.4L665.7 241.3Z" fill="#fff" stroke="#2b7249" stroke-width="1.15"/>
<path d="M670.9 244.7L673 246.8L670.9 248.9L668.8 246.8Z" fill="#fff" stroke="#2b7249" stroke-width="1.15"/>
<line x1="504.5" y1="321.4" x2="507" y2="321.4" stroke="#231f20" stroke-width="0.8"/>
<line x1="504.5" y1="313.01" x2="505.8" y2="313.01" stroke="#231f20" stroke-width="0.8"/>
<line x1="504.5" y1="308.11" x2="505.8" y2="308.11" stroke="#231f20" stroke-width="0.8"/>
<line x1="504.5" y1="304.63" x2="505.8" y2="304.63" stroke="#231f20" stroke-width="0.8"/>
<line x1="504.5" y1="301.93" x2="505.8" y2="301.93" stroke="#231f20" stroke-width="0.8"/>
<line x1="504.5" y1="299.72" x2="505.8" y2="299.72" stroke="#231f20" stroke-width="0.8"/>
<line x1="504.5" y1="297.86" x2="505.8" y2="297.86" stroke="#231f20" stroke-width="0.8"/>
<line x1="504.5" y1="296.24" x2="505.8" y2="296.24" stroke="#231f20" stroke-width="0.8"/>
<line x1="504.5" y1="294.81" x2="505.8" y2="294.81" stroke="#231f20" stroke-width="0.8"/>
<line x1="504.5" y1="293.54" x2="507" y2="293.54" stroke="#231f20" stroke-width="0.8"/>
<line x1="504.5" y1="285.15" x2="505.8" y2="285.15" stroke="#231f20" stroke-width="0.8"/>
<line x1="504.5" y1="280.25" x2="505.8" y2="280.25" stroke="#231f20" stroke-width="0.8"/>
<line x1="504.5" y1="276.77" x2="505.8" y2="276.77" stroke="#231f20" stroke-width="0.8"/>
<line x1="504.5" y1="274.07" x2="505.8" y2="274.07" stroke="#231f20" stroke-width="0.8"/>
<line x1="504.5" y1="271.86" x2="505.8" y2="271.86" stroke="#231f20" stroke-width="0.8"/>
<line x1="504.5" y1="270" x2="505.8" y2="270" stroke="#231f20" stroke-width="0.8"/>
<line x1="504.5" y1="268.38" x2="505.8" y2="268.38" stroke="#231f20" stroke-width="0.8"/>
<line x1="504.5" y1="266.95" x2="505.8" y2="266.95" stroke="#231f20" stroke-width="0.8"/>
<line x1="504.5" y1="265.68" x2="507" y2="265.68" stroke="#231f20" stroke-width="0.8"/>
<line x1="504.5" y1="257.29" x2="505.8" y2="257.29" stroke="#231f20" stroke-width="0.8"/>
<line x1="504.5" y1="252.39" x2="505.8" y2="252.39" stroke="#231f20" stroke-width="0.8"/>
<line x1="504.5" y1="248.91" x2="505.8" y2="248.91" stroke="#231f20" stroke-width="0.8"/>
<line x1="504.5" y1="246.21" x2="505.8" y2="246.21" stroke="#231f20" stroke-width="0.8"/>
<line x1="504.5" y1="244" x2="505.8" y2="244" stroke="#231f20" stroke-width="0.8"/>
<line x1="504.5" y1="242.14" x2="505.8" y2="242.14" stroke="#231f20" stroke-width="0.8"/>
<line x1="504.5" y1="240.52" x2="505.8" y2="240.52" stroke="#231f20" stroke-width="0.8"/>
<line x1="504.5" y1="239.09" x2="505.8" y2="239.09" stroke="#231f20" stroke-width="0.8"/>
<line x1="504.5" y1="237.82" x2="507" y2="237.82" stroke="#231f20" stroke-width="0.8"/>
<line x1="504.5" y1="229.43" x2="505.8" y2="229.43" stroke="#231f20" stroke-width="0.8"/>
<line x1="504.5" y1="224.53" x2="505.8" y2="224.53" stroke="#231f20" stroke-width="0.8"/>
<line x1="504.5" y1="221.05" x2="505.8" y2="221.05" stroke="#231f20" stroke-width="0.8"/>
<line x1="504.5" y1="218.35" x2="505.8" y2="218.35" stroke="#231f20" stroke-width="0.8"/>
<line x1="504.5" y1="216.14" x2="505.8" y2="216.14" stroke="#231f20" stroke-width="0.8"/>
<line x1="504.5" y1="214.28" x2="505.8" y2="214.28" stroke="#231f20" stroke-width="0.8"/>
<line x1="504.5" y1="212.66" x2="505.8" y2="212.66" stroke="#231f20" stroke-width="0.8"/>
<line x1="504.5" y1="211.23" x2="505.8" y2="211.23" stroke="#231f20" stroke-width="0.8"/>
<line x1="504.5" y1="209.96" x2="507" y2="209.96" stroke="#231f20" stroke-width="0.8"/>
<line x1="504.5" y1="201.57" x2="505.8" y2="201.57" stroke="#231f20" stroke-width="0.8"/>
<line x1="504.5" y1="196.67" x2="505.8" y2="196.67" stroke="#231f20" stroke-width="0.8"/>
<line x1="504.5" y1="193.19" x2="505.8" y2="193.19" stroke="#231f20" stroke-width="0.8"/>
<line x1="504.5" y1="190.49" x2="505.8" y2="190.49" stroke="#231f20" stroke-width="0.8"/>
<line x1="504.5" y1="188.28" x2="505.8" y2="188.28" stroke="#231f20" stroke-width="0.8"/>
<line x1="504.5" y1="186.42" x2="505.8" y2="186.42" stroke="#231f20" stroke-width="0.8"/>
<line x1="504.5" y1="184.8" x2="505.8" y2="184.8" stroke="#231f20" stroke-width="0.8"/>
<line x1="504.5" y1="183.37" x2="505.8" y2="183.37" stroke="#231f20" stroke-width="0.8"/>
<line x1="504.5" y1="182.1" x2="507" y2="182.1" stroke="#231f20" stroke-width="0.8"/>
<line x1="506.06" y1="321.4" x2="506.06" y2="320.1" stroke="#231f20" stroke-width="0.8"/>
<line x1="507.98" y1="321.4" x2="507.98" y2="320.1" stroke="#231f20" stroke-width="0.8"/>
<line x1="509.68" y1="321.4" x2="509.68" y2="320.1" stroke="#231f20" stroke-width="0.8"/>
<line x1="511.2" y1="321.4" x2="511.2" y2="318.9" stroke="#231f20" stroke-width="0.8"/>
<line x1="521.19" y1="321.4" x2="521.19" y2="320.1" stroke="#231f20" stroke-width="0.8"/>
<line x1="527.04" y1="321.4" x2="527.04" y2="320.1" stroke="#231f20" stroke-width="0.8"/>
<line x1="531.19" y1="321.4" x2="531.19" y2="320.1" stroke="#231f20" stroke-width="0.8"/>
<line x1="534.41" y1="321.4" x2="534.41" y2="320.1" stroke="#231f20" stroke-width="0.8"/>
<line x1="537.03" y1="321.4" x2="537.03" y2="320.1" stroke="#231f20" stroke-width="0.8"/>
<line x1="539.26" y1="321.4" x2="539.26" y2="320.1" stroke="#231f20" stroke-width="0.8"/>
<line x1="541.18" y1="321.4" x2="541.18" y2="320.1" stroke="#231f20" stroke-width="0.8"/>
<line x1="542.88" y1="321.4" x2="542.88" y2="320.1" stroke="#231f20" stroke-width="0.8"/>
<line x1="544.4" y1="321.4" x2="544.4" y2="318.9" stroke="#231f20" stroke-width="0.8"/>
<line x1="554.39" y1="321.4" x2="554.39" y2="320.1" stroke="#231f20" stroke-width="0.8"/>
<line x1="560.24" y1="321.4" x2="560.24" y2="320.1" stroke="#231f20" stroke-width="0.8"/>
<line x1="564.39" y1="321.4" x2="564.39" y2="320.1" stroke="#231f20" stroke-width="0.8"/>
<line x1="567.61" y1="321.4" x2="567.61" y2="320.1" stroke="#231f20" stroke-width="0.8"/>
<line x1="570.23" y1="321.4" x2="570.23" y2="320.1" stroke="#231f20" stroke-width="0.8"/>
<line x1="572.46" y1="321.4" x2="572.46" y2="320.1" stroke="#231f20" stroke-width="0.8"/>
<line x1="574.38" y1="321.4" x2="574.38" y2="320.1" stroke="#231f20" stroke-width="0.8"/>
<line x1="576.08" y1="321.4" x2="576.08" y2="320.1" stroke="#231f20" stroke-width="0.8"/>
<line x1="577.6" y1="321.4" x2="577.6" y2="318.9" stroke="#231f20" stroke-width="0.8"/>
<line x1="587.59" y1="321.4" x2="587.59" y2="320.1" stroke="#231f20" stroke-width="0.8"/>
<line x1="593.44" y1="321.4" x2="593.44" y2="320.1" stroke="#231f20" stroke-width="0.8"/>
<line x1="597.59" y1="321.4" x2="597.59" y2="320.1" stroke="#231f20" stroke-width="0.8"/>
<line x1="600.81" y1="321.4" x2="600.81" y2="320.1" stroke="#231f20" stroke-width="0.8"/>
<line x1="603.43" y1="321.4" x2="603.43" y2="320.1" stroke="#231f20" stroke-width="0.8"/>
<line x1="605.66" y1="321.4" x2="605.66" y2="320.1" stroke="#231f20" stroke-width="0.8"/>
<line x1="607.58" y1="321.4" x2="607.58" y2="320.1" stroke="#231f20" stroke-width="0.8"/>
<line x1="609.28" y1="321.4" x2="609.28" y2="320.1" stroke="#231f20" stroke-width="0.8"/>
<line x1="610.8" y1="321.4" x2="610.8" y2="318.9" stroke="#231f20" stroke-width="0.8"/>
<line x1="620.79" y1="321.4" x2="620.79" y2="320.1" stroke="#231f20" stroke-width="0.8"/>
<line x1="626.64" y1="321.4" x2="626.64" y2="320.1" stroke="#231f20" stroke-width="0.8"/>
<line x1="630.79" y1="321.4" x2="630.79" y2="320.1" stroke="#231f20" stroke-width="0.8"/>
<line x1="634.01" y1="321.4" x2="634.01" y2="320.1" stroke="#231f20" stroke-width="0.8"/>
<line x1="636.63" y1="321.4" x2="636.63" y2="320.1" stroke="#231f20" stroke-width="0.8"/>
<line x1="638.86" y1="321.4" x2="638.86" y2="320.1" stroke="#231f20" stroke-width="0.8"/>
<line x1="640.78" y1="321.4" x2="640.78" y2="320.1" stroke="#231f20" stroke-width="0.8"/>
<line x1="642.48" y1="321.4" x2="642.48" y2="320.1" stroke="#231f20" stroke-width="0.8"/>
<line x1="644" y1="321.4" x2="644" y2="318.9" stroke="#231f20" stroke-width="0.8"/>
<line x1="653.99" y1="321.4" x2="653.99" y2="320.1" stroke="#231f20" stroke-width="0.8"/>
<line x1="659.84" y1="321.4" x2="659.84" y2="320.1" stroke="#231f20" stroke-width="0.8"/>
<line x1="663.99" y1="321.4" x2="663.99" y2="320.1" stroke="#231f20" stroke-width="0.8"/>
<line x1="667.21" y1="321.4" x2="667.21" y2="320.1" stroke="#231f20" stroke-width="0.8"/>
<line x1="669.83" y1="321.4" x2="669.83" y2="320.1" stroke="#231f20" stroke-width="0.8"/>
<line x1="672.06" y1="321.4" x2="672.06" y2="320.1" stroke="#231f20" stroke-width="0.8"/>
<line x1="673.98" y1="321.4" x2="673.98" y2="320.1" stroke="#231f20" stroke-width="0.8"/>
<line x1="675.68" y1="321.4" x2="675.68" y2="320.1" stroke="#231f20" stroke-width="0.8"/>
<line x1="677.2" y1="321.4" x2="677.2" y2="318.9" stroke="#231f20" stroke-width="0.8"/>
<rect x="504.5" y="182.1" width="172.7" height="139.3" fill="none" stroke="#231f20" stroke-width="1.2"/>
<text x="499.4" y="327.05" font-size="10.3" text-anchor="end" fill="#231f20" stroke="#231f20" stroke-width="0.15">10<tspan dy="-4.1" font-size="7.2">&#8722;3</tspan></text>
<text x="499.4" y="299.19" font-size="10.3" text-anchor="end" fill="#231f20" stroke="#231f20" stroke-width="0.15">10<tspan dy="-4.1" font-size="7.2">&#8722;2</tspan></text>
<text x="499.4" y="271.33" font-size="10.3" text-anchor="end" fill="#231f20" stroke="#231f20" stroke-width="0.15">10<tspan dy="-4.1" font-size="7.2">&#8722;1</tspan></text>
<text x="499.4" y="243.47" font-size="10.3" text-anchor="end" fill="#231f20" stroke="#231f20" stroke-width="0.15">10<tspan dy="-4.1" font-size="7.2">0</tspan></text>
<text x="499.4" y="215.61" font-size="10.3" text-anchor="end" fill="#231f20" stroke="#231f20" stroke-width="0.15">10<tspan dy="-4.1" font-size="7.2">1</tspan></text>
<text x="499.4" y="187.75" font-size="10.3" text-anchor="end" fill="#231f20" stroke="#231f20" stroke-width="0.15">10<tspan dy="-4.1" font-size="7.2">2</tspan></text>
<text x="512.3" y="335.8" font-size="10.3" text-anchor="middle" fill="#231f20" stroke="#231f20" stroke-width="0.15">10<tspan dy="-4.1" font-size="7.2">&#8722;2</tspan></text>
<text x="545.5" y="335.8" font-size="10.3" text-anchor="middle" fill="#231f20" stroke="#231f20" stroke-width="0.15">10<tspan dy="-4.1" font-size="7.2">&#8722;1</tspan></text>
<text x="578.7" y="335.8" font-size="10.3" text-anchor="middle" fill="#231f20" stroke="#231f20" stroke-width="0.15">10<tspan dy="-4.1" font-size="7.2">0</tspan></text>
<text x="611.9" y="335.8" font-size="10.3" text-anchor="middle" fill="#231f20" stroke="#231f20" stroke-width="0.15">10<tspan dy="-4.1" font-size="7.2">1</tspan></text>
<text x="645.1" y="335.8" font-size="10.3" text-anchor="middle" fill="#231f20" stroke="#231f20" stroke-width="0.15">10<tspan dy="-4.1" font-size="7.2">2</tspan></text>
<text x="678.3" y="335.8" font-size="10.3" text-anchor="middle" fill="#231f20" stroke="#231f20" stroke-width="0.15">10<tspan dy="-4.1" font-size="7.2">3</tspan></text>
<text x="590.5" y="353.5" font-size="10.3" text-anchor="middle" fill="#231f20" stroke="#231f20" stroke-width="0.15">Current density (mA cm<tspan dy="-4.1" font-size="7.2">&#8722;2</tspan><tspan dy="4.1">)</tspan></text>
<text x="470.6" y="252" font-size="10.3" text-anchor="middle" fill="#231f20" stroke="#231f20" stroke-width="0.15" transform="rotate(-90 470.6 252)">EQE (%)</text>
<text x="551.3" y="193.2" font-size="9.1" fill="#231f20">21.3%</text>
<text x="579.8" y="225.5" font-size="9.1" fill="#231f20">9.3%</text>
<line x1="618.7" y1="296.9" x2="637.5" y2="296.9" stroke="#2b7249" stroke-width="1"/>
<path d="M628.4 294.8L630.5 296.9L628.4 299L626.3 296.9Z" fill="#fff" stroke="#2b7249" stroke-width="1.15"/>
<text x="642.1" y="300" font-size="9.1" fill="#231f20">Pristine</text>
<line x1="618.7" y1="307.4" x2="637.5" y2="307.4" stroke="#4fbf4f" stroke-width="1"/>
<circle cx="628.4" cy="307.4" r="1.6" fill="#fff" stroke="#4fbf4f" stroke-width="1.15"/>
<text x="642.1" y="310.5" font-size="9.1" fill="#231f20">Target</text>
<text x="-0.3" y="366.7" font-size="15.5" font-weight="bold" fill="#000">g</text>
<defs><pattern id="hp" width="2.0" height="2.0" patternUnits="userSpaceOnUse" patternTransform="rotate(45)"><rect width="2.0" height="2.0" fill="#e4eee8"/><rect width="0.8" height="2.0" fill="#8ab69c"/></pattern><pattern id="ht" width="2.0" height="2.0" patternUnits="userSpaceOnUse" patternTransform="rotate(45)"><rect width="2.0" height="2.0" fill="#e8f7e8"/><rect width="0.8" height="2.0" fill="#a2dca2"/></pattern></defs>
<rect x="58.3" y="492.67" width="9.2" height="13.93" fill="url(#hp)" stroke="#2b7249" stroke-width="1"/>
<rect x="70" y="464.81" width="9.2" height="41.79" fill="url(#hp)" stroke="#2b7249" stroke-width="1"/>
<rect x="81.3" y="423.02" width="9.6" height="83.58" fill="url(#hp)" stroke="#2b7249" stroke-width="1"/>
<rect x="92.3" y="436.95" width="9.3" height="69.65" fill="url(#hp)" stroke="#2b7249" stroke-width="1"/>
<rect x="103.6" y="464.81" width="9.3" height="41.79" fill="url(#hp)" stroke="#2b7249" stroke-width="1"/>
<rect x="114.9" y="478.74" width="9.4" height="27.86" fill="url(#hp)" stroke="#2b7249" stroke-width="1"/>
<rect x="163.7" y="423.02" width="8" height="83.58" fill="url(#ht)" stroke="#5cc45c" stroke-width="1"/>
<rect x="174.1" y="409.09" width="8.3" height="97.51" fill="url(#ht)" stroke="#5cc45c" stroke-width="1"/>
<rect x="186" y="450.88" width="8" height="55.72" fill="url(#ht)" stroke="#5cc45c" stroke-width="1"/>
<rect x="197.3" y="464.81" width="8.4" height="41.79" fill="url(#ht)" stroke="#5cc45c" stroke-width="1"/>
<path d="M46.95 504.85 C47.04 504.83 47.32 504.74 47.51 504.68 C47.7 504.61 47.89 504.55 48.08 504.48 C48.27 504.41 48.46 504.34 48.64 504.27 C48.83 504.2 49.02 504.12 49.21 504.04 C49.4 503.96 49.59 503.88 49.78 503.8 C49.96 503.71 50.15 503.62 50.34 503.53 C50.53 503.44 50.72 503.34 50.91 503.24 C51.1 503.14 51.29 503.04 51.47 502.93 C51.66 502.82 51.85 502.71 52.04 502.59 C52.23 502.48 52.42 502.36 52.61 502.23 C52.79 502.11 52.98 501.98 53.17 501.84 C53.36 501.71 53.55 501.57 53.74 501.43 C53.93 501.29 54.12 501.14 54.3 500.98 C54.49 500.83 54.68 500.67 54.87 500.51 C55.06 500.35 55.25 500.18 55.44 500 C55.62 499.83 55.81 499.65 56 499.46 C56.19 499.28 56.38 499.09 56.57 498.89 C56.76 498.69 56.95 498.49 57.13 498.28 C57.32 498.07 57.51 497.85 57.7 497.63 C57.89 497.41 58.08 497.18 58.27 496.94 C58.45 496.71 58.64 496.46 58.83 496.21 C59.02 495.97 59.21 495.71 59.4 495.45 C59.59 495.18 59.78 494.91 59.96 494.64 C60.15 494.36 60.34 494.08 60.53 493.79 C60.72 493.49 60.91 493.2 61.1 492.89 C61.28 492.58 61.47 492.27 61.66 491.95 C61.85 491.63 62.04 491.3 62.23 490.96 C62.42 490.63 62.61 490.28 62.79 489.93 C62.98 489.58 63.17 489.22 63.36 488.86 C63.55 488.49 63.74 488.12 63.93 487.73 C64.11 487.35 64.3 486.96 64.49 486.56 C64.68 486.17 64.87 485.76 65.06 485.35 C65.25 484.94 65.44 484.52 65.62 484.09 C65.81 483.66 66 483.22 66.19 482.78 C66.38 482.34 66.57 481.89 66.76 481.43 C66.94 480.97 67.13 480.51 67.32 480.04 C67.51 479.56 67.7 479.08 67.89 478.6 C68.08 478.11 68.27 477.62 68.45 477.12 C68.64 476.62 68.83 476.11 69.02 475.6 C69.21 475.09 69.4 474.57 69.59 474.05 C69.77 473.52 69.96 472.99 70.15 472.45 C70.34 471.92 70.53 471.38 70.72 470.83 C70.91 470.28 71.1 469.73 71.28 469.17 C71.47 468.62 71.66 468.05 71.85 467.49 C72.04 466.92 72.23 466.35 72.42 465.78 C72.6 465.21 72.79 464.63 72.98 464.05 C73.17 463.47 73.36 462.88 73.55 462.3 C73.74 461.71 73.93 461.12 74.11 460.53 C74.3 459.94 74.49 459.35 74.68 458.76 C74.87 458.17 75.06 457.57 75.25 456.98 C75.43 456.38 75.62 455.79 75.81 455.19 C76 454.6 76.19 454 76.38 453.41 C76.57 452.82 76.76 452.22 76.94 451.63 C77.13 451.04 77.32 450.45 77.51 449.87 C77.7 449.28 77.89 448.7 78.08 448.12 C78.26 447.54 78.45 446.96 78.64 446.39 C78.83 445.82 79.02 445.25 79.21 444.68 C79.4 444.12 79.59 443.56 79.77 443.01 C79.96 442.46 80.15 441.91 80.34 441.38 C80.53 440.84 80.72 440.3 80.91 439.78 C81.09 439.25 81.28 438.74 81.47 438.23 C81.66 437.72 81.85 437.22 82.04 436.73 C82.23 436.24 82.42 435.76 82.6 435.29 C82.79 434.81 82.98 434.35 83.17 433.9 C83.36 433.45 83.55 433.01 83.74 432.58 C83.92 432.15 84.11 431.74 84.3 431.33 C84.49 430.93 84.68 430.54 84.87 430.16 C85.06 429.78 85.25 429.41 85.43 429.06 C85.62 428.71 85.81 428.37 86 428.04 C86.19 427.72 86.38 427.41 86.57 427.11 C86.75 426.82 86.94 426.54 87.13 426.27 C87.32 426.01 87.51 425.76 87.7 425.52 C87.89 425.29 88.08 425.07 88.26 424.86 C88.45 424.66 88.64 424.48 88.83 424.31 C89.02 424.14 89.21 423.98 89.4 423.84 C89.58 423.71 89.77 423.59 89.96 423.49 C90.15 423.38 90.34 423.3 90.53 423.23 C90.72 423.16 90.91 423.11 91.09 423.07 C91.28 423.04 91.47 423.02 91.66 423.02 C91.85 423.02 92.04 423.04 92.23 423.07 C92.41 423.11 92.6 423.16 92.79 423.23 C92.98 423.3 93.17 423.38 93.36 423.49 C93.55 423.59 93.74 423.71 93.92 423.84 C94.11 423.98 94.3 424.14 94.49 424.31 C94.68 424.48 94.87 424.66 95.06 424.86 C95.24 425.07 95.43 425.29 95.62 425.52 C95.81 425.76 96 426.01 96.19 426.27 C96.38 426.54 96.57 426.82 96.75 427.11 C96.94 427.41 97.13 427.72 97.32 428.04 C97.51 428.37 97.7 428.71 97.89 429.06 C98.07 429.41 98.26 429.78 98.45 430.16 C98.64 430.54 98.83 430.93 99.02 431.33 C99.21 431.74 99.4 432.15 99.58 432.58 C99.77 433.01 99.96 433.45 100.15 433.9 C100.34 434.35 100.53 434.81 100.72 435.29 C100.9 435.76 101.09 436.24 101.28 436.73 C101.47 437.22 101.66 437.72 101.85 438.23 C102.04 438.74 102.23 439.25 102.41 439.78 C102.6 440.3 102.79 440.84 102.98 441.38 C103.17 441.91 103.36 442.46 103.55 443.01 C103.73 443.56 103.92 444.12 104.11 444.68 C104.3 445.25 104.49 445.82 104.68 446.39 C104.87 446.96 105.06 447.54 105.24 448.12 C105.43 448.7 105.62 449.28 105.81 449.87 C106 450.45 106.19 451.04 106.38 451.63 C106.56 452.22 106.75 452.82 106.94 453.41 C107.13 454 107.32 454.6 107.51 455.19 C107.7 455.79 107.89 456.38 108.07 456.98 C108.26 457.57 108.45 458.17 108.64 458.76 C108.83 459.35 109.02 459.94 109.21 460.53 C109.39 461.12 109.58 461.71 109.77 462.3 C109.96 462.88 110.15 463.47 110.34 464.05 C110.53 464.63 110.72 465.21 110.9 465.78 C111.09 466.35 111.28 466.92 111.47 467.49 C111.66 468.05 111.85 468.62 112.04 469.17 C112.22 469.73 112.41 470.28 112.6 470.83 C112.79 471.38 112.98 471.92 113.17 472.45 C113.36 472.99 113.55 473.52 113.73 474.05 C113.92 474.57 114.11 475.09 114.3 475.6 C114.49 476.11 114.68 476.62 114.87 477.12 C115.05 477.62 115.24 478.11 115.43 478.6 C115.62 479.08 115.81 479.56 116 480.04 C116.19 480.51 116.38 480.97 116.56 481.43 C116.75 481.89 116.94 482.34 117.13 482.78 C117.32 483.22 117.51 483.66 117.7 484.09 C117.88 484.52 118.07 484.94 118.26 485.35 C118.45 485.76 118.64 486.17 118.83 486.56 C119.02 486.96 119.21 487.35 119.39 487.73 C119.58 488.12 119.77 488.49 119.96 488.86 C120.15 489.22 120.34 489.58 120.53 489.93 C120.71 490.28 120.9 490.63 121.09 490.96 C121.28 491.3 121.47 491.63 121.66 491.95 C121.85 492.27 122.04 492.58 122.22 492.89 C122.41 493.2 122.6 493.49 122.79 493.79 C122.98 494.08 123.17 494.36 123.36 494.64 C123.54 494.91 123.73 495.18 123.92 495.45 C124.11 495.71 124.3 495.97 124.49 496.21 C124.68 496.46 124.87 496.71 125.05 496.94 C125.24 497.18 125.43 497.41 125.62 497.63 C125.81 497.85 126 498.07 126.19 498.28 C126.37 498.49 126.56 498.69 126.75 498.89 C126.94 499.09 127.13 499.28 127.32 499.46 C127.51 499.65 127.7 499.83 127.88 500 C128.07 500.18 128.26 500.35 128.45 500.51 C128.64 500.67 128.83 500.83 129.02 500.98 C129.2 501.14 129.39 501.29 129.58 501.43 C129.77 501.57 129.96 501.71 130.15 501.84 C130.34 501.98 130.53 502.11 130.71 502.23 C130.9 502.36 131.09 502.48 131.28 502.59 C131.47 502.71 131.66 502.82 131.85 502.93 C132.03 503.04 132.22 503.14 132.41 503.24 C132.6 503.34 132.79 503.44 132.98 503.53 C133.17 503.62 133.36 503.71 133.54 503.8 C133.73 503.88 133.92 503.96 134.11 504.04 C134.3 504.12 134.49 504.2 134.68 504.27 C134.86 504.34 135.05 504.41 135.24 504.48 C135.43 504.55 135.62 504.61 135.81 504.68 C136 504.74 136.28 504.83 136.37 504.85" fill="none" stroke="#2b7249" stroke-width="1"/>
<path d="M143.35 505.81 C143.44 505.79 143.72 505.73 143.9 505.68 C144.08 505.64 144.27 505.6 144.45 505.55 C144.63 505.5 144.82 505.45 145 505.39 C145.18 505.33 145.37 505.28 145.55 505.21 C145.73 505.15 145.92 505.09 146.1 505.02 C146.28 504.94 146.47 504.87 146.65 504.79 C146.83 504.71 147.02 504.63 147.2 504.54 C147.38 504.45 147.57 504.36 147.75 504.26 C147.93 504.16 148.12 504.06 148.3 503.95 C148.48 503.84 148.67 503.72 148.85 503.6 C149.03 503.48 149.22 503.35 149.4 503.22 C149.58 503.08 149.77 502.94 149.95 502.79 C150.13 502.64 150.32 502.48 150.5 502.32 C150.68 502.15 150.87 501.98 151.05 501.8 C151.23 501.61 151.42 501.42 151.6 501.22 C151.78 501.02 151.97 500.81 152.15 500.6 C152.33 500.38 152.52 500.15 152.7 499.91 C152.88 499.67 153.07 499.42 153.25 499.16 C153.43 498.9 153.62 498.63 153.8 498.34 C153.98 498.06 154.17 497.77 154.35 497.46 C154.53 497.15 154.72 496.83 154.9 496.5 C155.08 496.17 155.27 495.83 155.45 495.47 C155.63 495.11 155.82 494.74 156 494.35 C156.18 493.97 156.37 493.57 156.55 493.16 C156.73 492.74 156.92 492.32 157.1 491.88 C157.28 491.43 157.47 490.98 157.65 490.51 C157.83 490.03 158.02 489.55 158.2 489.05 C158.38 488.54 158.57 488.03 158.75 487.5 C158.93 486.96 159.12 486.42 159.3 485.85 C159.48 485.29 159.67 484.71 159.85 484.12 C160.03 483.52 160.22 482.91 160.4 482.29 C160.58 481.66 160.77 481.02 160.95 480.36 C161.13 479.71 161.32 479.04 161.5 478.35 C161.68 477.66 161.87 476.96 162.05 476.25 C162.23 475.53 162.42 474.8 162.6 474.06 C162.78 473.31 162.97 472.55 163.15 471.78 C163.33 471.01 163.52 470.23 163.7 469.43 C163.88 468.64 164.07 467.83 164.25 467.01 C164.43 466.19 164.62 465.35 164.8 464.51 C164.98 463.67 165.17 462.82 165.35 461.96 C165.53 461.1 165.72 460.22 165.9 459.35 C166.08 458.47 166.27 457.58 166.45 456.69 C166.63 455.8 166.82 454.9 167 454 C167.18 453.1 167.37 452.19 167.55 451.29 C167.73 450.38 167.92 449.46 168.1 448.55 C168.28 447.64 168.47 446.73 168.65 445.81 C168.83 444.9 169.02 443.99 169.2 443.08 C169.38 442.18 169.57 441.27 169.75 440.37 C169.93 439.48 170.12 438.58 170.3 437.69 C170.48 436.81 170.67 435.93 170.85 435.06 C171.03 434.19 171.22 433.33 171.4 432.49 C171.58 431.64 171.77 430.8 171.95 429.98 C172.13 429.16 172.32 428.35 172.5 427.56 C172.68 426.77 172.87 426 173.05 425.24 C173.23 424.49 173.42 423.75 173.6 423.03 C173.78 422.32 173.97 421.62 174.15 420.95 C174.33 420.28 174.52 419.62 174.7 419 C174.88 418.37 175.07 417.77 175.25 417.2 C175.43 416.62 175.62 416.07 175.8 415.55 C175.98 415.03 176.17 414.54 176.35 414.08 C176.53 413.62 176.72 413.18 176.9 412.78 C177.08 412.38 177.27 412.01 177.45 411.67 C177.63 411.33 177.82 411.02 178 410.75 C178.18 410.47 178.37 410.23 178.55 410.03 C178.73 409.82 178.92 409.65 179.1 409.51 C179.28 409.37 179.47 409.26 179.65 409.19 C179.83 409.12 180.02 409.09 180.2 409.09 C180.38 409.09 180.57 409.12 180.75 409.19 C180.93 409.26 181.12 409.37 181.3 409.51 C181.48 409.65 181.67 409.82 181.85 410.03 C182.03 410.23 182.22 410.47 182.4 410.75 C182.58 411.02 182.77 411.33 182.95 411.67 C183.13 412.01 183.32 412.38 183.5 412.78 C183.68 413.18 183.87 413.62 184.05 414.08 C184.23 414.54 184.42 415.03 184.6 415.55 C184.78 416.07 184.97 416.62 185.15 417.2 C185.33 417.77 185.52 418.37 185.7 419 C185.88 419.62 186.07 420.28 186.25 420.95 C186.43 421.62 186.62 422.32 186.8 423.03 C186.98 423.75 187.17 424.49 187.35 425.24 C187.53 426 187.72 426.77 187.9 427.56 C188.08 428.35 188.27 429.16 188.45 429.98 C188.63 430.8 188.82 431.64 189 432.49 C189.18 433.33 189.37 434.19 189.55 435.06 C189.73 435.93 189.92 436.81 190.1 437.69 C190.28 438.58 190.47 439.48 190.65 440.37 C190.83 441.27 191.02 442.18 191.2 443.08 C191.38 443.99 191.57 444.9 191.75 445.81 C191.93 446.73 192.12 447.64 192.3 448.55 C192.48 449.46 192.67 450.38 192.85 451.29 C193.03 452.19 193.22 453.1 193.4 454 C193.58 454.9 193.77 455.8 193.95 456.69 C194.13 457.58 194.32 458.47 194.5 459.35 C194.68 460.22 194.87 461.1 195.05 461.96 C195.23 462.82 195.42 463.67 195.6 464.51 C195.78 465.35 195.97 466.19 196.15 467.01 C196.33 467.83 196.52 468.64 196.7 469.43 C196.88 470.23 197.07 471.01 197.25 471.78 C197.43 472.55 197.62 473.31 197.8 474.06 C197.98 474.8 198.17 475.53 198.35 476.25 C198.53 476.96 198.72 477.66 198.9 478.35 C199.08 479.04 199.27 479.71 199.45 480.36 C199.63 481.02 199.82 481.66 200 482.29 C200.18 482.91 200.37 483.52 200.55 484.12 C200.73 484.71 200.92 485.29 201.1 485.85 C201.28 486.42 201.47 486.96 201.65 487.5 C201.83 488.03 202.02 488.54 202.2 489.05 C202.38 489.55 202.57 490.03 202.75 490.51 C202.93 490.98 203.12 491.43 203.3 491.88 C203.48 492.32 203.67 492.74 203.85 493.16 C204.03 493.57 204.22 493.97 204.4 494.35 C204.58 494.74 204.77 495.11 204.95 495.47 C205.13 495.83 205.32 496.17 205.5 496.5 C205.68 496.83 205.87 497.15 206.05 497.46 C206.23 497.77 206.42 498.06 206.6 498.34 C206.78 498.63 206.97 498.9 207.15 499.16 C207.33 499.42 207.52 499.67 207.7 499.91 C207.88 500.15 208.07 500.38 208.25 500.6 C208.43 500.81 208.62 501.02 208.8 501.22 C208.98 501.42 209.17 501.61 209.35 501.8 C209.53 501.98 209.72 502.15 209.9 502.32 C210.08 502.48 210.27 502.64 210.45 502.79 C210.63 502.94 210.82 503.08 211 503.22 C211.18 503.35 211.37 503.48 211.55 503.6 C211.73 503.72 211.92 503.84 212.1 503.95 C212.28 504.06 212.47 504.16 212.65 504.26 C212.83 504.36 213.02 504.45 213.2 504.54 C213.38 504.63 213.57 504.71 213.75 504.79 C213.93 504.87 214.12 504.94 214.3 505.02 C214.48 505.09 214.67 505.15 214.85 505.21 C215.03 505.28 215.22 505.33 215.4 505.39 C215.58 505.45 215.77 505.5 215.95 505.55 C216.13 505.6 216.32 505.64 216.5 505.68 C216.68 505.73 216.87 505.77 217.05 505.81 C217.23 505.84 217.42 505.88 217.6 505.91 C217.78 505.95 218.06 505.99 218.15 506.01" fill="none" stroke="#5cc45c" stroke-width="1"/>
<line x1="46.6" y1="366.7" x2="46.6" y2="507.2" stroke="#231f20" stroke-width="1.2"/>
<line x1="218.3" y1="366.7" x2="218.3" y2="507.2" stroke="#231f20" stroke-width="1.2"/>
<line x1="46.6" y1="367.3" x2="136.5" y2="367.3" stroke="#231f20" stroke-width="1.2"/>
<line x1="139.5" y1="367.3" x2="218.3" y2="367.3" stroke="#231f20" stroke-width="1.2"/>
<line x1="46.6" y1="506.6" x2="135.8" y2="506.6" stroke="#231f20" stroke-width="1.2"/>
<line x1="139" y1="506.6" x2="218.3" y2="506.6" stroke="#231f20" stroke-width="1.2"/>
<line x1="135.2" y1="369.6" x2="137.6" y2="365" stroke="#231f20" stroke-width="1.2"/>
<line x1="138.4" y1="369.6" x2="140.8" y2="365" stroke="#231f20" stroke-width="1.2"/>
<line x1="134.6" y1="508.9" x2="137" y2="504.3" stroke="#231f20" stroke-width="1.2"/>
<line x1="137.8" y1="508.9" x2="140.2" y2="504.3" stroke="#231f20" stroke-width="1.2"/>
<line x1="46.6" y1="506.6" x2="49.1" y2="506.6" stroke="#231f20" stroke-width="0.8"/>
<line x1="46.6" y1="492.67" x2="48" y2="492.67" stroke="#231f20" stroke-width="0.8"/>
<line x1="46.6" y1="478.74" x2="49.1" y2="478.74" stroke="#231f20" stroke-width="0.8"/>
<line x1="46.6" y1="464.81" x2="48" y2="464.81" stroke="#231f20" stroke-width="0.8"/>
<line x1="46.6" y1="450.88" x2="49.1" y2="450.88" stroke="#231f20" stroke-width="0.8"/>
<line x1="46.6" y1="436.95" x2="48" y2="436.95" stroke="#231f20" stroke-width="0.8"/>
<line x1="46.6" y1="423.02" x2="49.1" y2="423.02" stroke="#231f20" stroke-width="0.8"/>
<line x1="46.6" y1="409.09" x2="48" y2="409.09" stroke="#231f20" stroke-width="0.8"/>
<line x1="46.6" y1="395.16" x2="49.1" y2="395.16" stroke="#231f20" stroke-width="0.8"/>
<line x1="46.6" y1="381.23" x2="48" y2="381.23" stroke="#231f20" stroke-width="0.8"/>
<line x1="46.6" y1="367.3" x2="49.1" y2="367.3" stroke="#231f20" stroke-width="0.8"/>
<line x1="57.7" y1="506.6" x2="57.7" y2="504.1" stroke="#231f20" stroke-width="0.8"/>
<line x1="69.02" y1="506.6" x2="69.02" y2="505.2" stroke="#231f20" stroke-width="0.8"/>
<line x1="80.34" y1="506.6" x2="80.34" y2="504.1" stroke="#231f20" stroke-width="0.8"/>
<line x1="91.66" y1="506.6" x2="91.66" y2="505.2" stroke="#231f20" stroke-width="0.8"/>
<line x1="102.98" y1="506.6" x2="102.98" y2="504.1" stroke="#231f20" stroke-width="0.8"/>
<line x1="114.3" y1="506.6" x2="114.3" y2="505.2" stroke="#231f20" stroke-width="0.8"/>
<line x1="125.62" y1="506.6" x2="125.62" y2="504.1" stroke="#231f20" stroke-width="0.8"/>
<line x1="151.6" y1="506.6" x2="151.6" y2="505.2" stroke="#231f20" stroke-width="0.8"/>
<line x1="162.6" y1="506.6" x2="162.6" y2="504.1" stroke="#231f20" stroke-width="0.8"/>
<line x1="173.6" y1="506.6" x2="173.6" y2="505.2" stroke="#231f20" stroke-width="0.8"/>
<line x1="184.6" y1="506.6" x2="184.6" y2="504.1" stroke="#231f20" stroke-width="0.8"/>
<line x1="195.6" y1="506.6" x2="195.6" y2="505.2" stroke="#231f20" stroke-width="0.8"/>
<line x1="206.6" y1="506.6" x2="206.6" y2="504.1" stroke="#231f20" stroke-width="0.8"/>
<line x1="217.6" y1="506.6" x2="217.6" y2="505.2" stroke="#231f20" stroke-width="0.8"/>
<text x="41.8" y="510.2" font-size="10.3" text-anchor="end" fill="#231f20" stroke="#231f20" stroke-width="0.15">0</text>
<text x="41.8" y="482.34" font-size="10.3" text-anchor="end" fill="#231f20" stroke="#231f20" stroke-width="0.15">2</text>
<text x="41.8" y="454.48" font-size="10.3" text-anchor="end" fill="#231f20" stroke="#231f20" stroke-width="0.15">4</text>
<text x="41.8" y="426.62" font-size="10.3" text-anchor="end" fill="#231f20" stroke="#231f20" stroke-width="0.15">6</text>
<text x="41.8" y="398.76" font-size="10.3" text-anchor="end" fill="#231f20" stroke="#231f20" stroke-width="0.15">8</text>
<text x="41.8" y="370.9" font-size="10.3" text-anchor="end" fill="#231f20" stroke="#231f20" stroke-width="0.15">10</text>
<text x="57.7" y="518.7" font-size="10.3" text-anchor="middle" fill="#231f20" stroke="#231f20" stroke-width="0.15">4</text>
<text x="80.34" y="518.7" font-size="10.3" text-anchor="middle" fill="#231f20" stroke="#231f20" stroke-width="0.15">6</text>
<text x="102.98" y="518.7" font-size="10.3" text-anchor="middle" fill="#231f20" stroke="#231f20" stroke-width="0.15">8</text>
<text x="125.62" y="518.7" font-size="10.3" text-anchor="middle" fill="#231f20" stroke="#231f20" stroke-width="0.15">10</text>
<text x="162.6" y="518.7" font-size="10.3" text-anchor="middle" fill="#231f20" stroke="#231f20" stroke-width="0.15">18</text>
<text x="184.6" y="518.7" font-size="10.3" text-anchor="middle" fill="#231f20" stroke="#231f20" stroke-width="0.15">20</text>
<text x="206.6" y="518.7" font-size="10.3" text-anchor="middle" fill="#231f20" stroke="#231f20" stroke-width="0.15">22</text>
<text x="132" y="533.5" font-size="10.3" text-anchor="middle" fill="#231f20" stroke="#231f20" stroke-width="0.15">EQE (%)</text>
<text x="23.6" y="436.7" font-size="10.3" text-anchor="middle" fill="#231f20" stroke="#231f20" stroke-width="0.15" transform="rotate(-90 23.6 436.7)">Number of decives</text>
<text x="72.6" y="416.6" font-size="8.8" fill="#231f20">7.1 &#177; 1.3%</text>
<text x="157.1" y="402.6" font-size="8.8" fill="#231f20">19.7 &#177; 1.0%</text>
<rect x="55.2" y="376.2" width="15.4" height="7.2" fill="url(#hp)" stroke="#2b7249" stroke-width="1" rx="1.2"/>
<rect x="55.2" y="386.2" width="15.4" height="7.2" fill="url(#ht)" stroke="#5cc45c" stroke-width="1" rx="1.2"/>
<text x="76.2" y="382.6" font-size="8.8" fill="#231f20">Pristine</text>
<text x="76.2" y="392.4" font-size="8.8" fill="#231f20">Target</text>
<text x="230.4" y="366.7" font-size="15.5" font-weight="bold" fill="#000">h</text>
<defs><linearGradient id="gp" x1="0" y1="0" x2="0" y2="1"><stop offset="0" stop-color="#9fb8a8"/><stop offset="1" stop-color="#ffffff"/></linearGradient><linearGradient id="gt" x1="0" y1="0" x2="0" y2="1"><stop offset="0" stop-color="#a9d6a9"/><stop offset="1" stop-color="#ffffff"/></linearGradient></defs>
<path d="M319.46 432.9 C319.55 432.89 319.84 432.87 320.03 432.86 C320.22 432.85 320.42 432.84 320.61 432.82 C320.8 432.81 320.99 432.79 321.18 432.78 C321.37 432.76 321.57 432.75 321.76 432.73 C321.95 432.72 322.14 432.7 322.33 432.69 C322.53 432.67 322.72 432.65 322.91 432.64 C323.1 432.62 323.29 432.6 323.49 432.58 C323.68 432.57 323.87 432.55 324.06 432.53 C324.25 432.51 324.45 432.49 324.64 432.47 C324.83 432.44 325.02 432.42 325.21 432.4 C325.4 432.38 325.6 432.35 325.79 432.33 C325.98 432.31 326.17 432.28 326.36 432.25 C326.56 432.23 326.75 432.2 326.94 432.17 C327.13 432.14 327.32 432.12 327.52 432.08 C327.71 432.05 327.9 432.02 328.09 431.99 C328.28 431.95 328.48 431.92 328.67 431.88 C328.86 431.84 329.05 431.8 329.24 431.76 C329.43 431.72 329.63 431.67 329.82 431.63 C330.01 431.58 330.2 431.53 330.39 431.48 C330.59 431.42 330.78 431.37 330.97 431.31 C331.16 431.25 331.35 431.18 331.55 431.11 C331.74 431.04 331.93 430.97 332.12 430.89 C332.31 430.8 332.51 430.72 332.7 430.62 C332.89 430.53 333.08 430.43 333.27 430.32 C333.46 430.2 333.66 430.09 333.85 429.96 C334.04 429.82 334.23 429.68 334.42 429.53 C334.62 429.38 334.81 429.21 335 429.03 C335.19 428.85 335.38 428.66 335.58 428.44 C335.77 428.23 335.96 428 336.15 427.76 C336.34 427.51 336.54 427.24 336.73 426.95 C336.92 426.66 337.11 426.35 337.3 426.01 C337.49 425.67 337.69 425.31 337.88 424.93 C338.07 424.54 338.26 424.12 338.45 423.68 C338.65 423.23 338.84 422.76 339.03 422.25 C339.22 421.75 339.41 421.21 339.61 420.65 C339.8 420.08 339.99 419.48 340.18 418.84 C340.37 418.21 340.56 417.54 340.76 416.84 C340.95 416.14 341.14 415.41 341.33 414.64 C341.52 413.88 341.72 413.08 341.91 412.26 C342.1 411.43 342.29 410.57 342.48 409.69 C342.68 408.81 342.87 407.9 343.06 406.97 C343.25 406.05 343.44 405.09 343.64 404.13 C343.83 403.17 344.02 402.19 344.21 401.2 C344.4 400.22 344.59 399.23 344.79 398.25 C344.98 397.26 345.17 396.27 345.36 395.31 C345.55 394.36 345.75 393.4 345.94 392.49 C346.13 391.58 346.32 390.68 346.51 389.85 C346.71 389.02 346.9 388.22 347.09 387.5 C347.28 386.78 347.47 386.11 347.67 385.53 C347.86 384.96 348.05 384.45 348.24 384.04 C348.43 383.64 348.62 383.32 348.82 383.12 C349.01 382.91 349.2 382.8 349.39 382.8 C349.58 382.8 349.78 382.91 349.97 383.12 C350.16 383.32 350.35 383.64 350.54 384.04 C350.74 384.45 350.93 384.96 351.12 385.53 C351.31 386.11 351.5 386.78 351.7 387.5 C351.89 388.22 352.08 389.02 352.27 389.85 C352.46 390.68 352.65 391.58 352.85 392.49 C353.04 393.4 353.23 394.36 353.42 395.31 C353.61 396.27 353.81 397.26 354 398.25 C354.19 399.23 354.38 400.22 354.57 401.2 C354.77 402.19 354.96 403.17 355.15 404.13 C355.34 405.09 355.53 406.05 355.73 406.97 C355.92 407.9 356.11 408.81 356.3 409.69 C356.49 410.57 356.68 411.43 356.88 412.26 C357.07 413.08 357.26 413.88 357.45 414.64 C357.64 415.41 357.84 416.14 358.03 416.84 C358.22 417.54 358.41 418.21 358.6 418.84 C358.8 419.48 358.99 420.08 359.18 420.65 C359.37 421.21 359.56 421.75 359.75 422.25 C359.95 422.76 360.14 423.23 360.33 423.68 C360.52 424.12 360.71 424.54 360.91 424.93 C361.1 425.31 361.29 425.67 361.48 426.01 C361.67 426.35 361.87 426.66 362.06 426.95 C362.25 427.24 362.44 427.51 362.63 427.76 C362.83 428 363.02 428.23 363.21 428.44 C363.4 428.66 363.59 428.85 363.78 429.03 C363.98 429.21 364.17 429.38 364.36 429.53 C364.55 429.68 364.74 429.82 364.94 429.96 C365.13 430.09 365.32 430.2 365.51 430.32 C365.7 430.43 365.9 430.53 366.09 430.62 C366.28 430.72 366.47 430.8 366.66 430.89 C366.86 430.97 367.05 431.04 367.24 431.11 C367.43 431.18 367.62 431.25 367.81 431.31 C368.01 431.37 368.2 431.42 368.39 431.48 C368.58 431.53 368.77 431.58 368.97 431.63 C369.16 431.67 369.35 431.72 369.54 431.76 C369.73 431.8 369.93 431.84 370.12 431.88 C370.31 431.92 370.5 431.95 370.69 431.99 C370.89 432.02 371.08 432.05 371.27 432.08 C371.46 432.12 371.65 432.14 371.84 432.17 C372.04 432.2 372.23 432.23 372.42 432.25 C372.61 432.28 372.8 432.31 373 432.33 C373.19 432.35 373.38 432.38 373.57 432.4 C373.76 432.42 373.96 432.44 374.15 432.47 C374.34 432.49 374.53 432.51 374.72 432.53 C374.92 432.55 375.11 432.57 375.3 432.58 C375.49 432.6 375.68 432.62 375.87 432.64 C376.07 432.65 376.26 432.67 376.45 432.69 C376.64 432.7 376.83 432.72 377.03 432.73 C377.22 432.75 377.41 432.76 377.6 432.78 C377.79 432.79 377.99 432.81 378.18 432.82 C378.37 432.84 378.56 432.85 378.75 432.86 C378.94 432.87 379.23 432.89 379.33 432.9 L379.33 433.9 L319.46 433.9Z" fill="url(#gp)" stroke="none" stroke-width="1"/>
<path d="M273.4 433.74 C273.5 433.74 273.78 433.74 273.98 433.74 C274.17 433.74 274.36 433.73 274.55 433.73 C274.74 433.73 274.94 433.73 275.13 433.73 C275.32 433.73 275.51 433.73 275.7 433.73 C275.89 433.73 276.09 433.73 276.28 433.73 C276.47 433.72 276.66 433.72 276.85 433.72 C277.05 433.72 277.24 433.72 277.43 433.72 C277.62 433.72 277.81 433.72 278.01 433.72 C278.2 433.72 278.39 433.72 278.58 433.71 C278.77 433.71 278.97 433.71 279.16 433.71 C279.35 433.71 279.54 433.71 279.73 433.71 C279.92 433.71 280.12 433.71 280.31 433.7 C280.5 433.7 280.69 433.7 280.88 433.7 C281.08 433.7 281.27 433.7 281.46 433.7 C281.65 433.7 281.84 433.7 282.04 433.69 C282.23 433.69 282.42 433.69 282.61 433.69 C282.8 433.69 283 433.69 283.19 433.69 C283.38 433.69 283.57 433.69 283.76 433.68 C283.95 433.68 284.15 433.68 284.34 433.68 C284.53 433.68 284.72 433.68 284.91 433.68 C285.11 433.67 285.3 433.67 285.49 433.67 C285.68 433.67 285.87 433.67 286.07 433.67 C286.26 433.67 286.45 433.67 286.64 433.66 C286.83 433.66 287.02 433.66 287.22 433.66 C287.41 433.66 287.6 433.66 287.79 433.65 C287.98 433.65 288.18 433.65 288.37 433.65 C288.56 433.65 288.75 433.65 288.94 433.65 C289.14 433.64 289.33 433.64 289.52 433.64 C289.71 433.64 289.9 433.64 290.1 433.64 C290.29 433.63 290.48 433.63 290.67 433.63 C290.86 433.63 291.05 433.63 291.25 433.63 C291.44 433.62 291.63 433.62 291.82 433.62 C292.01 433.62 292.21 433.62 292.4 433.61 C292.59 433.61 292.78 433.61 292.97 433.61 C293.17 433.61 293.36 433.6 293.55 433.6 C293.74 433.6 293.93 433.6 294.13 433.6 C294.32 433.59 294.51 433.59 294.7 433.59 C294.89 433.59 295.08 433.59 295.28 433.58 C295.47 433.58 295.66 433.58 295.85 433.58 C296.04 433.57 296.24 433.57 296.43 433.57 C296.62 433.57 296.81 433.57 297 433.56 C297.2 433.56 297.39 433.56 297.58 433.56 C297.77 433.55 297.96 433.55 298.16 433.55 C298.35 433.54 298.54 433.54 298.73 433.54 C298.92 433.54 299.11 433.53 299.31 433.53 C299.5 433.53 299.69 433.53 299.88 433.52 C300.07 433.52 300.27 433.52 300.46 433.51 C300.65 433.51 300.84 433.51 301.03 433.51 C301.23 433.5 301.42 433.5 301.61 433.5 C301.8 433.49 301.99 433.49 302.19 433.49 C302.38 433.48 302.57 433.48 302.76 433.48 C302.95 433.47 303.14 433.47 303.34 433.47 C303.53 433.46 303.72 433.46 303.91 433.45 C304.1 433.45 304.3 433.45 304.49 433.44 C304.68 433.44 304.87 433.44 305.06 433.43 C305.26 433.43 305.45 433.42 305.64 433.42 C305.83 433.42 306.02 433.41 306.21 433.41 C306.41 433.4 306.6 433.4 306.79 433.39 C306.98 433.39 307.17 433.38 307.37 433.38 C307.56 433.38 307.75 433.37 307.94 433.37 C308.13 433.36 308.33 433.36 308.52 433.35 C308.71 433.35 308.9 433.34 309.09 433.34 C309.29 433.33 309.48 433.33 309.67 433.32 C309.86 433.31 310.05 433.31 310.24 433.3 C310.44 433.3 310.63 433.29 310.82 433.29 C311.01 433.28 311.2 433.27 311.4 433.27 C311.59 433.26 311.78 433.26 311.97 433.25 C312.16 433.24 312.36 433.24 312.55 433.23 C312.74 433.22 312.93 433.22 313.12 433.21 C313.32 433.2 313.51 433.19 313.7 433.19 C313.89 433.18 314.08 433.17 314.27 433.16 C314.47 433.16 314.66 433.15 314.85 433.14 C315.04 433.13 315.23 433.12 315.43 433.11 C315.62 433.11 315.81 433.1 316 433.09 C316.19 433.08 316.39 433.07 316.58 433.06 C316.77 433.05 316.96 433.04 317.15 433.03 C317.35 433.02 317.54 433.01 317.73 433 C317.92 432.99 318.11 432.98 318.3 432.97 C318.5 432.96 318.69 432.95 318.88 432.93 C319.07 432.92 319.26 432.91 319.46 432.9 C319.65 432.89 319.84 432.87 320.03 432.86 C320.22 432.85 320.42 432.84 320.61 432.82 C320.8 432.81 320.99 432.79 321.18 432.78 C321.37 432.76 321.57 432.75 321.76 432.73 C321.95 432.72 322.14 432.7 322.33 432.69 C322.53 432.67 322.72 432.65 322.91 432.64 C323.1 432.62 323.29 432.6 323.49 432.58 C323.68 432.57 323.87 432.55 324.06 432.53 C324.25 432.51 324.45 432.49 324.64 432.47 C324.83 432.44 325.02 432.42 325.21 432.4 C325.4 432.38 325.6 432.35 325.79 432.33 C325.98 432.31 326.17 432.28 326.36 432.25 C326.56 432.23 326.75 432.2 326.94 432.17 C327.13 432.14 327.32 432.12 327.52 432.08 C327.71 432.05 327.9 432.02 328.09 431.99 C328.28 431.95 328.48 431.92 328.67 431.88 C328.86 431.84 329.05 431.8 329.24 431.76 C329.43 431.72 329.63 431.67 329.82 431.63 C330.01 431.58 330.2 431.53 330.39 431.48 C330.59 431.42 330.78 431.37 330.97 431.31 C331.16 431.25 331.35 431.18 331.55 431.11 C331.74 431.04 331.93 430.97 332.12 430.89 C332.31 430.8 332.51 430.72 332.7 430.62 C332.89 430.53 333.08 430.43 333.27 430.32 C333.46 430.2 333.66 430.09 333.85 429.96 C334.04 429.82 334.23 429.68 334.42 429.53 C334.62 429.38 334.81 429.21 335 429.03 C335.19 428.85 335.38 428.66 335.58 428.44 C335.77 428.23 335.96 428 336.15 427.76 C336.34 427.51 336.54 427.24 336.73 426.95 C336.92 426.66 337.11 426.35 337.3 426.01 C337.49 425.67 337.69 425.31 337.88 424.93 C338.07 424.54 338.26 424.12 338.45 423.68 C338.65 423.23 338.84 422.76 339.03 422.25 C339.22 421.75 339.41 421.21 339.61 420.65 C339.8 420.08 339.99 419.48 340.18 418.84 C340.37 418.21 340.56 417.54 340.76 416.84 C340.95 416.14 341.14 415.41 341.33 414.64 C341.52 413.88 341.72 413.08 341.91 412.26 C342.1 411.43 342.29 410.57 342.48 409.69 C342.68 408.81 342.87 407.9 343.06 406.97 C343.25 406.05 343.44 405.09 343.64 404.13 C343.83 403.17 344.02 402.19 344.21 401.2 C344.4 400.22 344.59 399.23 344.79 398.25 C344.98 397.26 345.17 396.27 345.36 395.31 C345.55 394.36 345.75 393.4 345.94 392.49 C346.13 391.58 346.32 390.68 346.51 389.85 C346.71 389.02 346.9 388.22 347.09 387.5 C347.28 386.78 347.47 386.11 347.67 385.53 C347.86 384.96 348.05 384.45 348.24 384.04 C348.43 383.64 348.62 383.32 348.82 383.12 C349.01 382.91 349.2 382.8 349.39 382.8 C349.58 382.8 349.78 382.91 349.97 383.12 C350.16 383.32 350.35 383.64 350.54 384.04 C350.74 384.45 350.93 384.96 351.12 385.53 C351.31 386.11 351.5 386.78 351.7 387.5 C351.89 388.22 352.08 389.02 352.27 389.85 C352.46 390.68 352.65 391.58 352.85 392.49 C353.04 393.4 353.23 394.36 353.42 395.31 C353.61 396.27 353.81 397.26 354 398.25 C354.19 399.23 354.38 400.22 354.57 401.2 C354.77 402.19 354.96 403.17 355.15 404.13 C355.34 405.09 355.53 406.05 355.73 406.97 C355.92 407.9 356.11 408.81 356.3 409.69 C356.49 410.57 356.68 411.43 356.88 412.26 C357.07 413.08 357.26 413.88 357.45 414.64 C357.64 415.41 357.84 416.14 358.03 416.84 C358.22 417.54 358.41 418.21 358.6 418.84 C358.8 419.48 358.99 420.08 359.18 420.65 C359.37 421.21 359.56 421.75 359.75 422.25 C359.95 422.76 360.14 423.23 360.33 423.68 C360.52 424.12 360.71 424.54 360.91 424.93 C361.1 425.31 361.29 425.67 361.48 426.01 C361.67 426.35 361.87 426.66 362.06 426.95 C362.25 427.24 362.44 427.51 362.63 427.76 C362.83 428 363.02 428.23 363.21 428.44 C363.4 428.66 363.59 428.85 363.78 429.03 C363.98 429.21 364.17 429.38 364.36 429.53 C364.55 429.68 364.74 429.82 364.94 429.96 C365.13 430.09 365.32 430.2 365.51 430.32 C365.7 430.43 365.9 430.53 366.09 430.62 C366.28 430.72 366.47 430.8 366.66 430.89 C366.86 430.97 367.05 431.04 367.24 431.11 C367.43 431.18 367.62 431.25 367.81 431.31 C368.01 431.37 368.2 431.42 368.39 431.48 C368.58 431.53 368.77 431.58 368.97 431.63 C369.16 431.67 369.35 431.72 369.54 431.76 C369.73 431.8 369.93 431.84 370.12 431.88 C370.31 431.92 370.5 431.95 370.69 431.99 C370.89 432.02 371.08 432.05 371.27 432.08 C371.46 432.12 371.65 432.14 371.84 432.17 C372.04 432.2 372.23 432.23 372.42 432.25 C372.61 432.28 372.8 432.31 373 432.33 C373.19 432.35 373.38 432.38 373.57 432.4 C373.76 432.42 373.96 432.44 374.15 432.47 C374.34 432.49 374.53 432.51 374.72 432.53 C374.92 432.55 375.11 432.57 375.3 432.58 C375.49 432.6 375.68 432.62 375.87 432.64 C376.07 432.65 376.26 432.67 376.45 432.69 C376.64 432.7 376.83 432.72 377.03 432.73 C377.22 432.75 377.41 432.76 377.6 432.78 C377.79 432.79 377.99 432.81 378.18 432.82 C378.37 432.84 378.56 432.85 378.75 432.86 C378.94 432.87 379.14 432.89 379.33 432.9 C379.52 432.91 379.71 432.92 379.9 432.93 C380.1 432.95 380.29 432.96 380.48 432.97 C380.67 432.98 380.86 432.99 381.06 433 C381.25 433.01 381.44 433.02 381.63 433.03 C381.82 433.04 382.02 433.05 382.21 433.06 C382.4 433.07 382.59 433.08 382.78 433.09 C382.97 433.1 383.17 433.11 383.36 433.11 C383.55 433.12 383.74 433.13 383.93 433.14 C384.13 433.15 384.32 433.16 384.51 433.16 C384.7 433.17 384.89 433.18 385.09 433.19 C385.28 433.19 385.47 433.2 385.66 433.21 C385.85 433.22 386.05 433.22 386.24 433.23 C386.43 433.24 386.62 433.24 386.81 433.25 C387 433.26 387.2 433.26 387.39 433.27 C387.58 433.27 387.77 433.28 387.96 433.29 C388.16 433.29 388.35 433.3 388.54 433.3 C388.73 433.31 388.92 433.31 389.12 433.32 C389.31 433.33 389.5 433.33 389.69 433.34 C389.88 433.34 390.08 433.35 390.27 433.35 C390.46 433.36 390.65 433.36 390.84 433.37 C391.03 433.37 391.23 433.38 391.42 433.38 C391.61 433.38 391.8 433.39 391.99 433.39 C392.19 433.4 392.38 433.4 392.57 433.41 C392.76 433.41 392.95 433.42 393.15 433.42 C393.34 433.42 393.53 433.43 393.72 433.43 C393.91 433.44 394.11 433.44 394.3 433.44 C394.49 433.45 394.68 433.45 394.87 433.45 C395.06 433.46 395.26 433.46 395.45 433.47 C395.64 433.47 395.83 433.47 396.02 433.48 C396.22 433.48 396.41 433.48 396.6 433.49 C396.79 433.49 396.98 433.49 397.18 433.5 C397.37 433.5 397.56 433.5 397.75 433.51 C397.94 433.51 398.13 433.51 398.33 433.51 C398.52 433.52 398.71 433.52 398.9 433.52 C399.09 433.53 399.29 433.53 399.48 433.53 C399.67 433.53 399.86 433.54 400.05 433.54 C400.25 433.54 400.44 433.54 400.63 433.55 C400.82 433.55 401.01 433.55 401.21 433.56 C401.4 433.56 401.59 433.56 401.78 433.56 C401.97 433.57 402.16 433.57 402.36 433.57 C402.55 433.57 402.74 433.57 402.93 433.58 C403.12 433.58 403.32 433.58 403.51 433.58 C403.7 433.59 403.89 433.59 404.08 433.59 C404.28 433.59 404.47 433.59 404.66 433.6 C404.85 433.6 405.04 433.6 405.24 433.6 C405.43 433.6 405.62 433.61 405.81 433.61 C406 433.61 406.19 433.61 406.39 433.61 C406.58 433.62 406.77 433.62 406.96 433.62 C407.15 433.62 407.35 433.62 407.54 433.63 C407.73 433.63 407.92 433.63 408.11 433.63 C408.31 433.63 408.5 433.63 408.69 433.64 C408.88 433.64 409.07 433.64 409.27 433.64 C409.46 433.64 409.65 433.64 409.84 433.65 C410.03 433.65 410.22 433.65 410.42 433.65 C410.61 433.65 410.8 433.65 410.99 433.65 C411.18 433.66 411.38 433.66 411.57 433.66 C411.76 433.66 411.95 433.66 412.14 433.66 C412.34 433.67 412.53 433.67 412.72 433.67 C412.91 433.67 413.1 433.67 413.3 433.67 C413.49 433.67 413.68 433.67 413.87 433.68 C414.06 433.68 414.25 433.68 414.45 433.68 C414.64 433.68 414.83 433.68 415.02 433.68 C415.21 433.69 415.41 433.69 415.6 433.69 C415.79 433.69 415.98 433.69 416.17 433.69 C416.37 433.69 416.56 433.69 416.75 433.69 C416.94 433.7 417.13 433.7 417.32 433.7 C417.52 433.7 417.71 433.7 417.9 433.7 C418.09 433.7 418.28 433.7 418.48 433.7 C418.67 433.71 418.86 433.71 419.05 433.71 C419.24 433.71 419.44 433.71 419.63 433.71 C419.82 433.71 420.01 433.71 420.2 433.71 C420.4 433.72 420.59 433.72 420.78 433.72 C420.97 433.72 421.16 433.72 421.35 433.72 C421.55 433.72 421.74 433.72 421.93 433.72 C422.12 433.72 422.31 433.72 422.51 433.73 C422.7 433.73 422.89 433.73 423.08 433.73 C423.27 433.73 423.47 433.73 423.66 433.73 C423.85 433.73 424.04 433.73 424.23 433.73 C424.43 433.73 424.62 433.74 424.81 433.74 C425 433.74 425.19 433.74 425.38 433.74 C425.58 433.74 425.77 433.74 425.96 433.74 C426.15 433.74 426.34 433.74 426.54 433.74 C426.73 433.74 426.92 433.74 427.11 433.75 C427.3 433.75 427.5 433.75 427.69 433.75 C427.88 433.75 428.07 433.75 428.26 433.75 C428.46 433.75 428.65 433.75 428.84 433.75 C429.03 433.75 429.22 433.75 429.41 433.75 C429.61 433.75 429.8 433.76 429.99 433.76 C430.18 433.76 430.37 433.76 430.57 433.76 C430.76 433.76 430.95 433.76 431.14 433.76 C431.33 433.76 431.53 433.76 431.72 433.76 C431.91 433.76 432.1 433.76 432.29 433.76 C432.49 433.76 432.68 433.77 432.87 433.77 C433.06 433.77 433.25 433.77 433.44 433.77 C433.64 433.77 433.83 433.77 434.02 433.77 C434.21 433.77 434.4 433.77 434.6 433.77 C434.79 433.77 434.98 433.77 435.17 433.77 C435.36 433.77 435.56 433.77 435.75 433.77 C435.94 433.78 436.13 433.78 436.32 433.78 C436.51 433.78 436.71 433.78 436.9 433.78 C437.09 433.78 437.28 433.78 437.47 433.78 C437.67 433.78 437.86 433.78 438.05 433.78 C438.24 433.78 438.43 433.78 438.63 433.78 C438.82 433.78 439.01 433.78 439.2 433.78 C439.39 433.78 439.59 433.78 439.78 433.79 C439.97 433.79 440.16 433.79 440.35 433.79 C440.54 433.79 440.74 433.79 440.93 433.79 C441.12 433.79 441.31 433.79 441.5 433.79 C441.7 433.79 441.89 433.79 442.08 433.79 C442.27 433.79 442.46 433.79 442.66 433.79 C442.85 433.79 443.04 433.79 443.23 433.79 C443.42 433.79 443.62 433.79 443.81 433.79 C444 433.8 444.19 433.8 444.38 433.8 C444.57 433.8 444.77 433.8 444.96 433.8 C445.15 433.8 445.34 433.8 445.53 433.8 C445.73 433.8 446.01 433.8 446.11 433.8" fill="none" stroke="#2b7249" stroke-width="1.2"/>
<line x1="349.39" y1="377.8" x2="349.39" y2="388.8" stroke="#555" stroke-width="0.8" stroke-dasharray="1,1"/>
<line x1="333.77" y1="408.35" x2="341.27" y2="408.35" stroke="#2b7249" stroke-width="0.9"/>
<path d="M341.97 408.35L338.77 406.65L338.77 410.05Z" fill="#2b7249" stroke="none" stroke-width="1"/>
<line x1="357.51" y1="408.35" x2="365.01" y2="408.35" stroke="#2b7249" stroke-width="0.9"/>
<path d="M356.81 408.35L360.01 406.65L360.01 410.05Z" fill="#2b7249" stroke="none" stroke-width="1"/>
<path d="M317.73 499.45 C317.82 499.44 318.11 499.42 318.3 499.41 C318.5 499.4 318.69 499.39 318.88 499.38 C319.07 499.37 319.26 499.36 319.46 499.34 C319.65 499.33 319.84 499.32 320.03 499.3 C320.22 499.29 320.42 499.28 320.61 499.26 C320.8 499.25 320.99 499.24 321.18 499.22 C321.37 499.21 321.57 499.19 321.76 499.17 C321.95 499.16 322.14 499.14 322.33 499.13 C322.53 499.11 322.72 499.09 322.91 499.07 C323.1 499.06 323.29 499.04 323.49 499.02 C323.68 499 323.87 498.98 324.06 498.96 C324.25 498.94 324.45 498.92 324.64 498.89 C324.83 498.87 325.02 498.85 325.21 498.82 C325.4 498.8 325.6 498.78 325.79 498.75 C325.98 498.72 326.17 498.7 326.36 498.67 C326.56 498.64 326.75 498.61 326.94 498.58 C327.13 498.55 327.32 498.52 327.52 498.49 C327.71 498.45 327.9 498.42 328.09 498.38 C328.28 498.34 328.48 498.31 328.67 498.26 C328.86 498.22 329.05 498.18 329.24 498.13 C329.43 498.09 329.63 498.04 329.82 497.99 C330.01 497.93 330.2 497.88 330.39 497.82 C330.59 497.76 330.78 497.69 330.97 497.62 C331.16 497.55 331.35 497.48 331.55 497.39 C331.74 497.31 331.93 497.23 332.12 497.13 C332.31 497.03 332.51 496.93 332.7 496.81 C332.89 496.7 333.08 496.58 333.27 496.44 C333.46 496.3 333.66 496.16 333.85 495.99 C334.04 495.83 334.23 495.65 334.42 495.46 C334.62 495.26 334.81 495.05 335 494.82 C335.19 494.59 335.38 494.34 335.58 494.06 C335.77 493.78 335.96 493.48 336.15 493.16 C336.34 492.83 336.54 492.48 336.73 492.09 C336.92 491.7 337.11 491.29 337.3 490.84 C337.49 490.39 337.69 489.91 337.88 489.39 C338.07 488.87 338.26 488.31 338.45 487.72 C338.65 487.12 338.84 486.49 339.03 485.82 C339.22 485.14 339.41 484.43 339.61 483.67 C339.8 482.92 339.99 482.12 340.18 481.29 C340.37 480.46 340.56 479.58 340.76 478.67 C340.95 477.77 341.14 476.82 341.33 475.84 C341.52 474.86 341.72 473.85 341.91 472.82 C342.1 471.78 342.29 470.72 342.48 469.64 C342.68 468.57 342.87 467.47 343.06 466.38 C343.25 465.29 343.44 464.17 343.64 463.09 C343.83 462 344.02 460.91 344.21 459.86 C344.4 458.82 344.59 457.78 344.79 456.81 C344.98 455.84 345.17 454.89 345.36 454.04 C345.55 453.19 345.75 452.39 345.94 451.7 C346.13 451.01 346.32 450.4 346.51 449.91 C346.71 449.42 346.9 449.04 347.09 448.78 C347.28 448.53 347.47 448.4 347.67 448.4 C347.86 448.4 348.05 448.53 348.24 448.78 C348.43 449.04 348.62 449.42 348.82 449.91 C349.01 450.4 349.2 451.01 349.39 451.7 C349.58 452.39 349.78 453.19 349.97 454.04 C350.16 454.89 350.35 455.84 350.54 456.81 C350.74 457.78 350.93 458.82 351.12 459.86 C351.31 460.91 351.5 462 351.7 463.09 C351.89 464.17 352.08 465.29 352.27 466.38 C352.46 467.47 352.65 468.57 352.85 469.64 C353.04 470.72 353.23 471.78 353.42 472.82 C353.61 473.85 353.81 474.86 354 475.84 C354.19 476.82 354.38 477.77 354.57 478.67 C354.77 479.58 354.96 480.46 355.15 481.29 C355.34 482.12 355.53 482.92 355.73 483.67 C355.92 484.43 356.11 485.14 356.3 485.82 C356.49 486.49 356.68 487.12 356.88 487.72 C357.07 488.31 357.26 488.87 357.45 489.39 C357.64 489.91 357.84 490.39 358.03 490.84 C358.22 491.29 358.41 491.7 358.6 492.09 C358.8 492.48 358.99 492.83 359.18 493.16 C359.37 493.48 359.56 493.78 359.75 494.06 C359.95 494.34 360.14 494.59 360.33 494.82 C360.52 495.05 360.71 495.26 360.91 495.46 C361.1 495.65 361.29 495.83 361.48 495.99 C361.67 496.16 361.87 496.3 362.06 496.44 C362.25 496.58 362.44 496.7 362.63 496.81 C362.83 496.93 363.02 497.03 363.21 497.13 C363.4 497.23 363.59 497.31 363.78 497.39 C363.98 497.48 364.17 497.55 364.36 497.62 C364.55 497.69 364.74 497.76 364.94 497.82 C365.13 497.88 365.32 497.93 365.51 497.99 C365.7 498.04 365.9 498.09 366.09 498.13 C366.28 498.18 366.47 498.22 366.66 498.26 C366.86 498.31 367.05 498.34 367.24 498.38 C367.43 498.42 367.62 498.45 367.81 498.49 C368.01 498.52 368.2 498.55 368.39 498.58 C368.58 498.61 368.77 498.64 368.97 498.67 C369.16 498.7 369.35 498.72 369.54 498.75 C369.73 498.78 369.93 498.8 370.12 498.82 C370.31 498.85 370.5 498.87 370.69 498.89 C370.89 498.92 371.08 498.94 371.27 498.96 C371.46 498.98 371.65 499 371.84 499.02 C372.04 499.04 372.23 499.06 372.42 499.07 C372.61 499.09 372.8 499.11 373 499.13 C373.19 499.14 373.38 499.16 373.57 499.17 C373.76 499.19 373.96 499.21 374.15 499.22 C374.34 499.24 374.53 499.25 374.72 499.26 C374.92 499.28 375.11 499.29 375.3 499.3 C375.49 499.32 375.68 499.33 375.87 499.34 C376.07 499.36 376.26 499.37 376.45 499.38 C376.64 499.39 376.83 499.4 377.03 499.41 C377.22 499.42 377.51 499.44 377.6 499.45 L377.6 500.3 L317.73 500.3Z" fill="url(#gt)" stroke="none" stroke-width="1"/>
<path d="M273.4 500.16 C273.5 500.16 273.78 500.16 273.98 500.15 C274.17 500.15 274.36 500.15 274.55 500.15 C274.74 500.15 274.94 500.15 275.13 500.15 C275.32 500.15 275.51 500.15 275.7 500.15 C275.89 500.15 276.09 500.15 276.28 500.14 C276.47 500.14 276.66 500.14 276.85 500.14 C277.05 500.14 277.24 500.14 277.43 500.14 C277.62 500.14 277.81 500.14 278.01 500.14 C278.2 500.14 278.39 500.14 278.58 500.13 C278.77 500.13 278.97 500.13 279.16 500.13 C279.35 500.13 279.54 500.13 279.73 500.13 C279.92 500.13 280.12 500.13 280.31 500.13 C280.5 500.12 280.69 500.12 280.88 500.12 C281.08 500.12 281.27 500.12 281.46 500.12 C281.65 500.12 281.84 500.12 282.04 500.12 C282.23 500.12 282.42 500.11 282.61 500.11 C282.8 500.11 283 500.11 283.19 500.11 C283.38 500.11 283.57 500.11 283.76 500.11 C283.95 500.11 284.15 500.1 284.34 500.1 C284.53 500.1 284.72 500.1 284.91 500.1 C285.11 500.1 285.3 500.1 285.49 500.1 C285.68 500.09 285.87 500.09 286.07 500.09 C286.26 500.09 286.45 500.09 286.64 500.09 C286.83 500.09 287.02 500.09 287.22 500.08 C287.41 500.08 287.6 500.08 287.79 500.08 C287.98 500.08 288.18 500.08 288.37 500.08 C288.56 500.07 288.75 500.07 288.94 500.07 C289.14 500.07 289.33 500.07 289.52 500.07 C289.71 500.07 289.9 500.06 290.1 500.06 C290.29 500.06 290.48 500.06 290.67 500.06 C290.86 500.06 291.05 500.05 291.25 500.05 C291.44 500.05 291.63 500.05 291.82 500.05 C292.01 500.05 292.21 500.04 292.4 500.04 C292.59 500.04 292.78 500.04 292.97 500.04 C293.17 500.04 293.36 500.03 293.55 500.03 C293.74 500.03 293.93 500.03 294.13 500.03 C294.32 500.02 294.51 500.02 294.7 500.02 C294.89 500.02 295.08 500.02 295.28 500.01 C295.47 500.01 295.66 500.01 295.85 500.01 C296.04 500.01 296.24 500 296.43 500 C296.62 500 296.81 500 297 499.99 C297.2 499.99 297.39 499.99 297.58 499.99 C297.77 499.98 297.96 499.98 298.16 499.98 C298.35 499.98 298.54 499.97 298.73 499.97 C298.92 499.97 299.11 499.97 299.31 499.96 C299.5 499.96 299.69 499.96 299.88 499.96 C300.07 499.95 300.27 499.95 300.46 499.95 C300.65 499.95 300.84 499.94 301.03 499.94 C301.23 499.94 301.42 499.93 301.61 499.93 C301.8 499.93 301.99 499.92 302.19 499.92 C302.38 499.92 302.57 499.92 302.76 499.91 C302.95 499.91 303.14 499.91 303.34 499.9 C303.53 499.9 303.72 499.9 303.91 499.89 C304.1 499.89 304.3 499.88 304.49 499.88 C304.68 499.88 304.87 499.87 305.06 499.87 C305.26 499.87 305.45 499.86 305.64 499.86 C305.83 499.85 306.02 499.85 306.21 499.85 C306.41 499.84 306.6 499.84 306.79 499.83 C306.98 499.83 307.17 499.82 307.37 499.82 C307.56 499.82 307.75 499.81 307.94 499.81 C308.13 499.8 308.33 499.8 308.52 499.79 C308.71 499.79 308.9 499.78 309.09 499.78 C309.29 499.77 309.48 499.77 309.67 499.76 C309.86 499.76 310.05 499.75 310.24 499.75 C310.44 499.74 310.63 499.73 310.82 499.73 C311.01 499.72 311.2 499.72 311.4 499.71 C311.59 499.7 311.78 499.7 311.97 499.69 C312.16 499.69 312.36 499.68 312.55 499.67 C312.74 499.67 312.93 499.66 313.12 499.65 C313.32 499.65 313.51 499.64 313.7 499.63 C313.89 499.62 314.08 499.62 314.27 499.61 C314.47 499.6 314.66 499.59 314.85 499.58 C315.04 499.58 315.23 499.57 315.43 499.56 C315.62 499.55 315.81 499.54 316 499.53 C316.19 499.52 316.39 499.52 316.58 499.51 C316.77 499.5 316.96 499.49 317.15 499.48 C317.35 499.47 317.54 499.46 317.73 499.45 C317.92 499.44 318.11 499.42 318.3 499.41 C318.5 499.4 318.69 499.39 318.88 499.38 C319.07 499.37 319.26 499.36 319.46 499.34 C319.65 499.33 319.84 499.32 320.03 499.3 C320.22 499.29 320.42 499.28 320.61 499.26 C320.8 499.25 320.99 499.24 321.18 499.22 C321.37 499.21 321.57 499.19 321.76 499.17 C321.95 499.16 322.14 499.14 322.33 499.13 C322.53 499.11 322.72 499.09 322.91 499.07 C323.1 499.06 323.29 499.04 323.49 499.02 C323.68 499 323.87 498.98 324.06 498.96 C324.25 498.94 324.45 498.92 324.64 498.89 C324.83 498.87 325.02 498.85 325.21 498.82 C325.4 498.8 325.6 498.78 325.79 498.75 C325.98 498.72 326.17 498.7 326.36 498.67 C326.56 498.64 326.75 498.61 326.94 498.58 C327.13 498.55 327.32 498.52 327.52 498.49 C327.71 498.45 327.9 498.42 328.09 498.38 C328.28 498.34 328.48 498.31 328.67 498.26 C328.86 498.22 329.05 498.18 329.24 498.13 C329.43 498.09 329.63 498.04 329.82 497.99 C330.01 497.93 330.2 497.88 330.39 497.82 C330.59 497.76 330.78 497.69 330.97 497.62 C331.16 497.55 331.35 497.48 331.55 497.39 C331.74 497.31 331.93 497.23 332.12 497.13 C332.31 497.03 332.51 496.93 332.7 496.81 C332.89 496.7 333.08 496.58 333.27 496.44 C333.46 496.3 333.66 496.16 333.85 495.99 C334.04 495.83 334.23 495.65 334.42 495.46 C334.62 495.26 334.81 495.05 335 494.82 C335.19 494.59 335.38 494.34 335.58 494.06 C335.77 493.78 335.96 493.48 336.15 493.16 C336.34 492.83 336.54 492.48 336.73 492.09 C336.92 491.7 337.11 491.29 337.3 490.84 C337.49 490.39 337.69 489.91 337.88 489.39 C338.07 488.87 338.26 488.31 338.45 487.72 C338.65 487.12 338.84 486.49 339.03 485.82 C339.22 485.14 339.41 484.43 339.61 483.67 C339.8 482.92 339.99 482.12 340.18 481.29 C340.37 480.46 340.56 479.58 340.76 478.67 C340.95 477.77 341.14 476.82 341.33 475.84 C341.52 474.86 341.72 473.85 341.91 472.82 C342.1 471.78 342.29 470.72 342.48 469.64 C342.68 468.57 342.87 467.47 343.06 466.38 C343.25 465.29 343.44 464.17 343.64 463.09 C343.83 462 344.02 460.91 344.21 459.86 C344.4 458.82 344.59 457.78 344.79 456.81 C344.98 455.84 345.17 454.89 345.36 454.04 C345.55 453.19 345.75 452.39 345.94 451.7 C346.13 451.01 346.32 450.4 346.51 449.91 C346.71 449.42 346.9 449.04 347.09 448.78 C347.28 448.53 347.47 448.4 347.67 448.4 C347.86 448.4 348.05 448.53 348.24 448.78 C348.43 449.04 348.62 449.42 348.82 449.91 C349.01 450.4 349.2 451.01 349.39 451.7 C349.58 452.39 349.78 453.19 349.97 454.04 C350.16 454.89 350.35 455.84 350.54 456.81 C350.74 457.78 350.93 458.82 351.12 459.86 C351.31 460.91 351.5 462 351.7 463.09 C351.89 464.17 352.08 465.29 352.27 466.38 C352.46 467.47 352.65 468.57 352.85 469.64 C353.04 470.72 353.23 471.78 353.42 472.82 C353.61 473.85 353.81 474.86 354 475.84 C354.19 476.82 354.38 477.77 354.57 478.67 C354.77 479.58 354.96 480.46 355.15 481.29 C355.34 482.12 355.53 482.92 355.73 483.67 C355.92 484.43 356.11 485.14 356.3 485.82 C356.49 486.49 356.68 487.12 356.88 487.72 C357.07 488.31 357.26 488.87 357.45 489.39 C357.64 489.91 357.84 490.39 358.03 490.84 C358.22 491.29 358.41 491.7 358.6 492.09 C358.8 492.48 358.99 492.83 359.18 493.16 C359.37 493.48 359.56 493.78 359.75 494.06 C359.95 494.34 360.14 494.59 360.33 494.82 C360.52 495.05 360.71 495.26 360.91 495.46 C361.1 495.65 361.29 495.83 361.48 495.99 C361.67 496.16 361.87 496.3 362.06 496.44 C362.25 496.58 362.44 496.7 362.63 496.81 C362.83 496.93 363.02 497.03 363.21 497.13 C363.4 497.23 363.59 497.31 363.78 497.39 C363.98 497.48 364.17 497.55 364.36 497.62 C364.55 497.69 364.74 497.76 364.94 497.82 C365.13 497.88 365.32 497.93 365.51 497.99 C365.7 498.04 365.9 498.09 366.09 498.13 C366.28 498.18 366.47 498.22 366.66 498.26 C366.86 498.31 367.05 498.34 367.24 498.38 C367.43 498.42 367.62 498.45 367.81 498.49 C368.01 498.52 368.2 498.55 368.39 498.58 C368.58 498.61 368.77 498.64 368.97 498.67 C369.16 498.7 369.35 498.72 369.54 498.75 C369.73 498.78 369.93 498.8 370.12 498.82 C370.31 498.85 370.5 498.87 370.69 498.89 C370.89 498.92 371.08 498.94 371.27 498.96 C371.46 498.98 371.65 499 371.84 499.02 C372.04 499.04 372.23 499.06 372.42 499.07 C372.61 499.09 372.8 499.11 373 499.13 C373.19 499.14 373.38 499.16 373.57 499.17 C373.76 499.19 373.96 499.21 374.15 499.22 C374.34 499.24 374.53 499.25 374.72 499.26 C374.92 499.28 375.11 499.29 375.3 499.3 C375.49 499.32 375.68 499.33 375.87 499.34 C376.07 499.36 376.26 499.37 376.45 499.38 C376.64 499.39 376.83 499.4 377.03 499.41 C377.22 499.42 377.41 499.44 377.6 499.45 C377.79 499.46 377.99 499.47 378.18 499.48 C378.37 499.49 378.56 499.5 378.75 499.51 C378.94 499.52 379.14 499.52 379.33 499.53 C379.52 499.54 379.71 499.55 379.9 499.56 C380.1 499.57 380.29 499.58 380.48 499.58 C380.67 499.59 380.86 499.6 381.06 499.61 C381.25 499.62 381.44 499.62 381.63 499.63 C381.82 499.64 382.02 499.65 382.21 499.65 C382.4 499.66 382.59 499.67 382.78 499.67 C382.97 499.68 383.17 499.69 383.36 499.69 C383.55 499.7 383.74 499.7 383.93 499.71 C384.13 499.72 384.32 499.72 384.51 499.73 C384.7 499.73 384.89 499.74 385.09 499.75 C385.28 499.75 385.47 499.76 385.66 499.76 C385.85 499.77 386.05 499.77 386.24 499.78 C386.43 499.78 386.62 499.79 386.81 499.79 C387 499.8 387.2 499.8 387.39 499.81 C387.58 499.81 387.77 499.82 387.96 499.82 C388.16 499.82 388.35 499.83 388.54 499.83 C388.73 499.84 388.92 499.84 389.12 499.85 C389.31 499.85 389.5 499.85 389.69 499.86 C389.88 499.86 390.08 499.87 390.27 499.87 C390.46 499.87 390.65 499.88 390.84 499.88 C391.03 499.88 391.23 499.89 391.42 499.89 C391.61 499.9 391.8 499.9 391.99 499.9 C392.19 499.91 392.38 499.91 392.57 499.91 C392.76 499.92 392.95 499.92 393.15 499.92 C393.34 499.92 393.53 499.93 393.72 499.93 C393.91 499.93 394.11 499.94 394.3 499.94 C394.49 499.94 394.68 499.95 394.87 499.95 C395.06 499.95 395.26 499.95 395.45 499.96 C395.64 499.96 395.83 499.96 396.02 499.96 C396.22 499.97 396.41 499.97 396.6 499.97 C396.79 499.97 396.98 499.98 397.18 499.98 C397.37 499.98 397.56 499.98 397.75 499.99 C397.94 499.99 398.13 499.99 398.33 499.99 C398.52 500 398.71 500 398.9 500 C399.09 500 399.29 500.01 399.48 500.01 C399.67 500.01 399.86 500.01 400.05 500.01 C400.25 500.02 400.44 500.02 400.63 500.02 C400.82 500.02 401.01 500.02 401.21 500.03 C401.4 500.03 401.59 500.03 401.78 500.03 C401.97 500.03 402.16 500.04 402.36 500.04 C402.55 500.04 402.74 500.04 402.93 500.04 C403.12 500.04 403.32 500.05 403.51 500.05 C403.7 500.05 403.89 500.05 404.08 500.05 C404.28 500.05 404.47 500.06 404.66 500.06 C404.85 500.06 405.04 500.06 405.24 500.06 C405.43 500.06 405.62 500.07 405.81 500.07 C406 500.07 406.19 500.07 406.39 500.07 C406.58 500.07 406.77 500.07 406.96 500.08 C407.15 500.08 407.35 500.08 407.54 500.08 C407.73 500.08 407.92 500.08 408.11 500.08 C408.31 500.09 408.5 500.09 408.69 500.09 C408.88 500.09 409.07 500.09 409.27 500.09 C409.46 500.09 409.65 500.09 409.84 500.1 C410.03 500.1 410.22 500.1 410.42 500.1 C410.61 500.1 410.8 500.1 410.99 500.1 C411.18 500.1 411.38 500.11 411.57 500.11 C411.76 500.11 411.95 500.11 412.14 500.11 C412.34 500.11 412.53 500.11 412.72 500.11 C412.91 500.11 413.1 500.12 413.3 500.12 C413.49 500.12 413.68 500.12 413.87 500.12 C414.06 500.12 414.25 500.12 414.45 500.12 C414.64 500.12 414.83 500.12 415.02 500.13 C415.21 500.13 415.41 500.13 415.6 500.13 C415.79 500.13 415.98 500.13 416.17 500.13 C416.37 500.13 416.56 500.13 416.75 500.13 C416.94 500.14 417.13 500.14 417.32 500.14 C417.52 500.14 417.71 500.14 417.9 500.14 C418.09 500.14 418.28 500.14 418.48 500.14 C418.67 500.14 418.86 500.14 419.05 500.14 C419.24 500.15 419.44 500.15 419.63 500.15 C419.82 500.15 420.01 500.15 420.2 500.15 C420.4 500.15 420.59 500.15 420.78 500.15 C420.97 500.15 421.16 500.15 421.35 500.15 C421.55 500.16 421.74 500.16 421.93 500.16 C422.12 500.16 422.31 500.16 422.51 500.16 C422.7 500.16 422.89 500.16 423.08 500.16 C423.27 500.16 423.47 500.16 423.66 500.16 C423.85 500.16 424.04 500.16 424.23 500.16 C424.43 500.17 424.62 500.17 424.81 500.17 C425 500.17 425.19 500.17 425.38 500.17 C425.58 500.17 425.77 500.17 425.96 500.17 C426.15 500.17 426.34 500.17 426.54 500.17 C426.73 500.17 426.92 500.17 427.11 500.17 C427.3 500.18 427.5 500.18 427.69 500.18 C427.88 500.18 428.07 500.18 428.26 500.18 C428.46 500.18 428.65 500.18 428.84 500.18 C429.03 500.18 429.22 500.18 429.41 500.18 C429.61 500.18 429.8 500.18 429.99 500.18 C430.18 500.18 430.37 500.18 430.57 500.18 C430.76 500.19 430.95 500.19 431.14 500.19 C431.33 500.19 431.53 500.19 431.72 500.19 C431.91 500.19 432.1 500.19 432.29 500.19 C432.49 500.19 432.68 500.19 432.87 500.19 C433.06 500.19 433.25 500.19 433.44 500.19 C433.64 500.19 433.83 500.19 434.02 500.19 C434.21 500.19 434.4 500.19 434.6 500.2 C434.79 500.2 434.98 500.2 435.17 500.2 C435.36 500.2 435.56 500.2 435.75 500.2 C435.94 500.2 436.13 500.2 436.32 500.2 C436.51 500.2 436.71 500.2 436.9 500.2 C437.09 500.2 437.28 500.2 437.47 500.2 C437.67 500.2 437.86 500.2 438.05 500.2 C438.24 500.2 438.43 500.2 438.63 500.2 C438.82 500.2 439.01 500.2 439.2 500.21 C439.39 500.21 439.59 500.21 439.78 500.21 C439.97 500.21 440.16 500.21 440.35 500.21 C440.54 500.21 440.74 500.21 440.93 500.21 C441.12 500.21 441.31 500.21 441.5 500.21 C441.7 500.21 441.89 500.21 442.08 500.21 C442.27 500.21 442.46 500.21 442.66 500.21 C442.85 500.21 443.04 500.21 443.23 500.21 C443.42 500.21 443.62 500.21 443.81 500.21 C444 500.21 444.19 500.21 444.38 500.22 C444.57 500.22 444.77 500.22 444.96 500.22 C445.15 500.22 445.34 500.22 445.53 500.22 C445.73 500.22 446.01 500.22 446.11 500.22" fill="none" stroke="#5cc45c" stroke-width="1.2"/>
<line x1="347.67" y1="443.4" x2="347.67" y2="454.4" stroke="#555" stroke-width="0.8" stroke-dasharray="1,1"/>
<line x1="332.62" y1="474.35" x2="340.12" y2="474.35" stroke="#5cc45c" stroke-width="0.9"/>
<path d="M340.82 474.35L337.62 472.65L337.62 476.05Z" fill="#5cc45c" stroke="none" stroke-width="1"/>
<line x1="355.21" y1="474.35" x2="362.71" y2="474.35" stroke="#5cc45c" stroke-width="0.9"/>
<path d="M354.51 474.35L357.71 472.65L357.71 476.05Z" fill="#5cc45c" stroke="none" stroke-width="1"/>
<text x="352.8" y="382.8" font-size="9.1" fill="#231f20">532 nm</text>
<text x="366.6" y="409.4" font-size="9.1" fill="#231f20">FWHM = 23 nm</text>
<text x="350.8" y="448.1" font-size="9.1" fill="#231f20">529 nm</text>
<text x="367.4" y="474.7" font-size="9.1" fill="#231f20">FWHM = 21 nm</text>
<rect x="273.5" y="366.7" width="172.9" height="139.3" fill="none" stroke="#231f20" stroke-width="1.2"/>
<line x1="287.79" y1="506" x2="287.79" y2="503.8" stroke="#231f20" stroke-width="0.8"/>
<line x1="302.19" y1="506" x2="302.19" y2="503.8" stroke="#231f20" stroke-width="0.8"/>
<line x1="316.58" y1="506" x2="316.58" y2="503.8" stroke="#231f20" stroke-width="0.8"/>
<line x1="330.97" y1="506" x2="330.97" y2="503.8" stroke="#231f20" stroke-width="0.8"/>
<line x1="345.36" y1="506" x2="345.36" y2="503.8" stroke="#231f20" stroke-width="0.8"/>
<line x1="359.75" y1="506" x2="359.75" y2="503.8" stroke="#231f20" stroke-width="0.8"/>
<line x1="374.15" y1="506" x2="374.15" y2="503.8" stroke="#231f20" stroke-width="0.8"/>
<line x1="388.54" y1="506" x2="388.54" y2="503.8" stroke="#231f20" stroke-width="0.8"/>
<line x1="402.93" y1="506" x2="402.93" y2="503.8" stroke="#231f20" stroke-width="0.8"/>
<line x1="417.32" y1="506" x2="417.32" y2="503.8" stroke="#231f20" stroke-width="0.8"/>
<line x1="431.72" y1="506" x2="431.72" y2="503.8" stroke="#231f20" stroke-width="0.8"/>
<text x="273.4" y="518.7" font-size="10.3" text-anchor="middle" fill="#231f20" stroke="#231f20" stroke-width="0.15">400</text>
<text x="302.19" y="518.7" font-size="10.3" text-anchor="middle" fill="#231f20" stroke="#231f20" stroke-width="0.15">450</text>
<text x="330.97" y="518.7" font-size="10.3" text-anchor="middle" fill="#231f20" stroke="#231f20" stroke-width="0.15">500</text>
<text x="359.75" y="518.7" font-size="10.3" text-anchor="middle" fill="#231f20" stroke="#231f20" stroke-width="0.15">550</text>
<text x="388.54" y="518.7" font-size="10.3" text-anchor="middle" fill="#231f20" stroke="#231f20" stroke-width="0.15">600</text>
<text x="417.32" y="518.7" font-size="10.3" text-anchor="middle" fill="#231f20" stroke="#231f20" stroke-width="0.15">650</text>
<text x="446.11" y="518.7" font-size="10.3" text-anchor="middle" fill="#231f20" stroke="#231f20" stroke-width="0.15">700</text>
<text x="359.6" y="533.6" font-size="10.3" text-anchor="middle" fill="#231f20" stroke="#231f20" stroke-width="0.15">Wavelength (nm)</text>
<text x="266.5" y="436" font-size="10.3" text-anchor="middle" fill="#231f20" stroke="#231f20" stroke-width="0.15" transform="rotate(-90 266.5 436)">Normalized EL intensity</text>
<line x1="281" y1="375.7" x2="295.6" y2="375.7" stroke="#2b7249" stroke-width="1.2"/>
<line x1="281" y1="385.4" x2="295.6" y2="385.4" stroke="#5cc45c" stroke-width="1.2"/>
<text x="301.6" y="378.6" font-size="9.1" fill="#231f20">Pristine</text>
<text x="301.6" y="388.3" font-size="9.1" fill="#231f20">Target</text>
<text x="461.6" y="366.7" font-size="15.5" font-weight="bold" fill="#000">i</text>
<line x1="504.3" y1="506.6" x2="506.8" y2="506.6" stroke="#231f20" stroke-width="0.8"/>
<line x1="504.3" y1="478.72" x2="506.8" y2="478.72" stroke="#231f20" stroke-width="0.8"/>
<line x1="504.3" y1="450.84" x2="506.8" y2="450.84" stroke="#231f20" stroke-width="0.8"/>
<line x1="504.3" y1="422.96" x2="506.8" y2="422.96" stroke="#231f20" stroke-width="0.8"/>
<line x1="504.3" y1="395.08" x2="506.8" y2="395.08" stroke="#231f20" stroke-width="0.8"/>
<line x1="504.3" y1="367.2" x2="506.8" y2="367.2" stroke="#231f20" stroke-width="0.8"/>
<line x1="504.3" y1="492.66" x2="505.7" y2="492.66" stroke="#231f20" stroke-width="0.8"/>
<line x1="504.3" y1="464.78" x2="505.7" y2="464.78" stroke="#231f20" stroke-width="0.8"/>
<line x1="504.3" y1="436.9" x2="505.7" y2="436.9" stroke="#231f20" stroke-width="0.8"/>
<line x1="504.3" y1="409.02" x2="505.7" y2="409.02" stroke="#231f20" stroke-width="0.8"/>
<line x1="504.3" y1="381.14" x2="505.7" y2="381.14" stroke="#231f20" stroke-width="0.8"/>
<line x1="504.3" y1="506.6" x2="504.3" y2="504.1" stroke="#231f20" stroke-width="0.8"/>
<line x1="530.35" y1="506.6" x2="530.35" y2="505.3" stroke="#231f20" stroke-width="0.8"/>
<line x1="545.59" y1="506.6" x2="545.59" y2="505.3" stroke="#231f20" stroke-width="0.8"/>
<line x1="556.41" y1="506.6" x2="556.41" y2="505.3" stroke="#231f20" stroke-width="0.8"/>
<line x1="564.8" y1="506.6" x2="564.8" y2="505.3" stroke="#231f20" stroke-width="0.8"/>
<line x1="571.65" y1="506.6" x2="571.65" y2="505.3" stroke="#231f20" stroke-width="0.8"/>
<line x1="577.44" y1="506.6" x2="577.44" y2="505.3" stroke="#231f20" stroke-width="0.8"/>
<line x1="582.46" y1="506.6" x2="582.46" y2="505.3" stroke="#231f20" stroke-width="0.8"/>
<line x1="586.89" y1="506.6" x2="586.89" y2="505.3" stroke="#231f20" stroke-width="0.8"/>
<line x1="590.85" y1="506.6" x2="590.85" y2="504.1" stroke="#231f20" stroke-width="0.8"/>
<line x1="616.9" y1="506.6" x2="616.9" y2="505.3" stroke="#231f20" stroke-width="0.8"/>
<line x1="632.14" y1="506.6" x2="632.14" y2="505.3" stroke="#231f20" stroke-width="0.8"/>
<line x1="642.96" y1="506.6" x2="642.96" y2="505.3" stroke="#231f20" stroke-width="0.8"/>
<line x1="651.35" y1="506.6" x2="651.35" y2="505.3" stroke="#231f20" stroke-width="0.8"/>
<line x1="658.2" y1="506.6" x2="658.2" y2="505.3" stroke="#231f20" stroke-width="0.8"/>
<line x1="663.99" y1="506.6" x2="663.99" y2="505.3" stroke="#231f20" stroke-width="0.8"/>
<line x1="669.01" y1="506.6" x2="669.01" y2="505.3" stroke="#231f20" stroke-width="0.8"/>
<line x1="673.44" y1="506.6" x2="673.44" y2="505.3" stroke="#231f20" stroke-width="0.8"/>
<line x1="677.4" y1="506.6" x2="677.4" y2="504.1" stroke="#231f20" stroke-width="0.8"/>
<rect x="504.3" y="367.2" width="173.1" height="139.4" fill="none" stroke="#231f20" stroke-width="1.2"/>
<text x="499.6" y="510.2" font-size="10.3" text-anchor="end" fill="#231f20" stroke="#231f20" stroke-width="0.15">0</text>
<text x="499.6" y="482.32" font-size="10.3" text-anchor="end" fill="#231f20" stroke="#231f20" stroke-width="0.15">5</text>
<text x="499.6" y="454.44" font-size="10.3" text-anchor="end" fill="#231f20" stroke="#231f20" stroke-width="0.15">10</text>
<text x="499.6" y="426.56" font-size="10.3" text-anchor="end" fill="#231f20" stroke="#231f20" stroke-width="0.15">15</text>
<text x="499.6" y="398.68" font-size="10.3" text-anchor="end" fill="#231f20" stroke="#231f20" stroke-width="0.15">20</text>
<text x="499.6" y="370.8" font-size="10.3" text-anchor="end" fill="#231f20" stroke="#231f20" stroke-width="0.15">25</text>
<text x="505.1" y="521.5" font-size="10.3" text-anchor="middle" fill="#231f20" stroke="#231f20" stroke-width="0.15">10<tspan dy="-4.1" font-size="7.2">3</tspan></text>
<text x="591.65" y="521.5" font-size="10.3" text-anchor="middle" fill="#231f20" stroke="#231f20" stroke-width="0.15">10<tspan dy="-4.1" font-size="7.2">4</tspan></text>
<text x="678.2" y="521.5" font-size="10.3" text-anchor="middle" fill="#231f20" stroke="#231f20" stroke-width="0.15">10<tspan dy="-4.1" font-size="7.2">5</tspan></text>
<text x="590.7" y="534.9" font-size="10.3" text-anchor="middle" fill="#231f20" stroke="#231f20" stroke-width="0.15">Luminance (cd m<tspan dy="-4.1" font-size="7.2">&#8722;2</tspan><tspan dy="4.1">)</tspan></text>
<text x="480.5" y="432" font-size="10.3" text-anchor="middle" fill="#231f20" stroke="#231f20" stroke-width="0.15" transform="rotate(-90 480.5 432)">EQE (%)</text>
<circle cx="512.3" cy="490.8" r="2" fill="#c8ecc8" stroke="#8fd08f" stroke-width="0.8"/>
<text x="516.8" y="489.9" font-size="5.85" fill="#2a2a2a">Ref. 35</text>
<text x="516.8" y="496.9" font-size="5.85" fill="#2a2a2a">520 nm</text>
<text x="516.8" y="503.4" font-size="5.85" fill="#2a2a2a">EQE = 2.8%</text>
<circle cx="553.1" cy="456.3" r="2" fill="#c8ecc8" stroke="#8fd08f" stroke-width="0.8"/>
<text x="528.6" y="455.4" font-size="5.85" fill="#2a2a2a">Ref. 38</text>
<text x="528.6" y="462.4" font-size="5.85" fill="#2a2a2a">518 nm</text>
<text x="528.6" y="468.9" font-size="5.85" fill="#2a2a2a">EQE = 9.0%</text>
<circle cx="578.5" cy="478.9" r="2" fill="#c8ecc8" stroke="#8fd08f" stroke-width="0.8"/>
<text x="555.7" y="479.6" font-size="5.85" fill="#2a2a2a">Ref. 37</text>
<text x="555.7" y="486.6" font-size="5.85" fill="#2a2a2a">512 nm</text>
<text x="555.7" y="493.4" font-size="5.85" fill="#2a2a2a">EQE = 4.9%</text>
<circle cx="594.6" cy="489.9" r="2" fill="#c8ecc8" stroke="#8fd08f" stroke-width="0.8"/>
<text x="599" y="488.5" font-size="5.85" fill="#2a2a2a">Ref. 36</text>
<text x="599" y="495.2" font-size="5.85" fill="#2a2a2a">515 nm</text>
<text x="599" y="502.2" font-size="5.85" fill="#2a2a2a">EQE = 3.0%</text>
<circle cx="597.1" cy="420.8" r="2" fill="#c8ecc8" stroke="#8fd08f" stroke-width="0.8"/>
<text x="574.1" y="419.9" font-size="5.85" fill="#2a2a2a">Ref. 10</text>
<text x="574.1" y="426.9" font-size="5.85" fill="#2a2a2a">525 nm</text>
<text x="574.1" y="433.4" font-size="5.85" fill="#2a2a2a">EQE = 15.4%</text>
<circle cx="620.5" cy="439.2" r="2" fill="#c8ecc8" stroke="#8fd08f" stroke-width="0.8"/>
<text x="625.1" y="438.3" font-size="5.85" fill="#2a2a2a">Ref. 11</text>
<text x="625.1" y="445.3" font-size="5.85" fill="#2a2a2a">513 nm</text>
<text x="625.1" y="452" font-size="5.85" fill="#2a2a2a">EQE = 12.1%</text>
<circle cx="635.6" cy="417.3" r="2" fill="#c8ecc8" stroke="#8fd08f" stroke-width="0.8"/>
<text x="640" y="416.4" font-size="5.85" fill="#2a2a2a">Ref. 39</text>
<text x="640" y="423.4" font-size="5.85" fill="#2a2a2a">515 nm</text>
<text x="640" y="429.9" font-size="5.85" fill="#2a2a2a">EQE = 16.0%</text>
<path d="M633 384.2 L633.94 386.71 L636.61 386.83 L634.52 388.49 L635.23 391.07 L633 389.6 L630.77 391.07 L631.48 388.49 L629.39 386.83 L632.06 386.71Z" fill="#2e8b4e" stroke="none" stroke-width="1"/>
<text x="638.9" y="385.8" font-size="5.85" font-weight="bold" fill="#111">This work</text>
<text x="638.9" y="392.8" font-size="5.85" font-weight="bold" fill="#3aa83a">529 nm</text>
<text x="638.9" y="399.4" font-size="5.85" font-weight="bold" fill="#3aa83a">EQE = 21.3%</text>
<text x="-0.4" y="10.7" font-size="15.5" font-weight="bold" fill="#000">a</text>
<defs>
<linearGradient id="a_lif_t" x1="0" y1="0" x2="0.3" y2="1"><stop offset="0" stop-color="#fffffb"/><stop offset="0.75" stop-color="#fefbf8"/><stop offset="1" stop-color="#f9ecf1"/></linearGradient>
<linearGradient id="a_lif_f" x1="0" y1="0" x2="1" y2="0"><stop offset="0" stop-color="#262836"/><stop offset="0.5" stop-color="#2c2f3d"/><stop offset="1" stop-color="#3a3d4c"/></linearGradient>
<linearGradient id="a_tp_t" x1="0" y1="0" x2="0" y2="1"><stop offset="0" stop-color="#6f5a3a"/><stop offset="0.6" stop-color="#a89068"/><stop offset="1" stop-color="#cdb888"/></linearGradient>
<linearGradient id="a_tp_f" x1="0" y1="0" x2="1" y2="0.3"><stop offset="0" stop-color="#d2be8a"/><stop offset="0.45" stop-color="#d8c592"/><stop offset="0.55" stop-color="#dfcc99"/><stop offset="1" stop-color="#e8d6a4"/></linearGradient>
<linearGradient id="a_qd_t" x1="0" y1="0" x2="0" y2="1"><stop offset="0" stop-color="#24b824"/><stop offset="0.45" stop-color="#3ae43a"/><stop offset="1" stop-color="#58f058"/></linearGradient>
<linearGradient id="a_qd_f" x1="0" y1="0" x2="0" y2="1"><stop offset="0" stop-color="#3ee83e"/><stop offset="1" stop-color="#27d027"/></linearGradient>
<linearGradient id="a_pt_t" x1="0" y1="0" x2="0" y2="1"><stop offset="0" stop-color="#1f8a2e"/><stop offset="0.5" stop-color="#3aa050"/><stop offset="1" stop-color="#6db596"/></linearGradient>
<linearGradient id="a_pt_f" x1="0" y1="0" x2="0" y2="1"><stop offset="0" stop-color="#6aab90"/><stop offset="1" stop-color="#5c9c84"/></linearGradient>
<linearGradient id="a_pe_t" x1="0" y1="0" x2="0" y2="1"><stop offset="0" stop-color="#1c1e20"/><stop offset="0.55" stop-color="#34383a"/><stop offset="1" stop-color="#4a5e68"/></linearGradient>
<linearGradient id="a_pe_f" x1="0" y1="0" x2="0" y2="1"><stop offset="0" stop-color="#3e6276"/><stop offset="1" stop-color="#34566a"/></linearGradient>
<linearGradient id="a_it_t" x1="0" y1="0" x2="1" y2="0"><stop offset="0" stop-color="#e4e6ea"/><stop offset="0.5" stop-color="#cdd0d8"/><stop offset="1" stop-color="#c2c5ce"/></linearGradient>
</defs>
<path d="M46.6 139.4 L183.2 149.9 L208.2 116.3 L93 118 Z" fill="url(#a_it_t)" stroke="none" stroke-width="1"/>
<path d="M46.6 139.4 L183.2 149.9 L183.2 151.8 L46.6 141.8 Z" fill="#3cbcc4" stroke="none" stroke-width="1"/>
<path d="M183.2 149.9 L208.2 116.3 L208.2 117.6 L183.2 151.8 Z" fill="#7aaab0" stroke="none" stroke-width="1"/>
<path d="M44.5 118 L112 121.5 L115 119.11 L118.77 116.99 L123.31 115.13 L128.63 113.54 L134.72 112.21 L141.58 111.14 L149.22 110.34 L157.63 109.8 L166.81 109.53 L176.77 109.52 L187.5 109.78 L199 110.3 L209.4 96.2 L93 97Z" fill="url(#a_pe_t)" stroke="none" stroke-width="1"/>
<path d="M199 110.3 L209.4 96.2 L209.4 109 L199 121.5Z" fill="#4b6e80" stroke="none" stroke-width="1"/>
<path d="M44.5 118 L112 121.5 L115 119.11 L118.77 116.99 L123.31 115.13 L128.63 113.54 L134.72 112.21 L141.58 111.14 L149.22 110.34 L157.63 109.8 L166.81 109.53 L176.77 109.52 L187.5 109.78 L199 110.3 L199 121.5 L187.5 120.91 L176.77 120.62 L166.81 120.63 L157.63 120.94 L149.22 121.54 L141.58 122.45 L134.72 123.66 L128.63 125.17 L123.31 126.98 L118.77 129.08 L115 131.49 L112 134.2 L44.5 129.7Z" fill="url(#a_pe_f)" stroke="none" stroke-width="1"/>
<path d="M44.5 101.7 L112 104.8 L115 102.6 L118.77 100.65 L123.31 98.94 L128.63 97.48 L134.72 96.25 L141.58 95.27 L149.22 94.54 L157.63 94.04 L166.81 93.79 L176.77 93.78 L187.5 94.02 L199 94.5 L210.7 80.6 L92.5 80.7Z" fill="url(#a_pt_t)" stroke="none" stroke-width="1"/>
<path d="M199 94.5 L210.7 80.6 L210.7 90 L199 102.8Z" fill="#6cab92" stroke="none" stroke-width="1"/>
<path d="M44.5 101.7 L112 104.8 L115 102.6 L118.77 100.65 L123.31 98.94 L128.63 97.48 L134.72 96.25 L141.58 95.27 L149.22 94.54 L157.63 94.04 L166.81 93.79 L176.77 93.78 L187.5 94.02 L199 94.5 L199 102.8 L187.5 102.29 L176.77 102.04 L166.81 102.04 L157.63 102.31 L149.22 102.84 L141.58 103.62 L134.72 104.67 L128.63 105.98 L123.31 107.54 L118.77 109.37 L115 111.45 L112 113.8 L44.5 110.8Z" fill="url(#a_pt_f)" stroke="none" stroke-width="1"/>
<path d="M44.5 87.4 L112 90.7 L115 88.44 L118.77 86.43 L123.31 84.67 L128.63 83.16 L134.72 81.9 L141.58 80.89 L149.22 80.14 L157.63 79.63 L166.81 79.37 L176.77 79.36 L187.5 79.61 L199 80.1 L210.7 69.5 L92 66.4Z" fill="url(#a_qd_t)" stroke="none" stroke-width="1"/>
<path d="M199 80.1 L210.7 69.5 L210.7 76 L199 87.8Z" fill="#5cf05c" stroke="none" stroke-width="1"/>
<path d="M44.5 87.4 L112 90.7 L115 88.44 L118.77 86.43 L123.31 84.67 L128.63 83.16 L134.72 81.9 L141.58 80.89 L149.22 80.14 L157.63 79.63 L166.81 79.37 L176.77 79.36 L187.5 79.61 L199 80.1 L199 87.8 L187.5 87.33 L176.77 87.1 L166.81 87.11 L157.63 87.35 L149.22 87.84 L141.58 88.56 L134.72 89.52 L128.63 90.72 L123.31 92.16 L118.77 93.83 L115 95.75 L112 97.9 L44.5 94.5Z" fill="url(#a_qd_f)" stroke="none" stroke-width="1"/>
<path d="M44.5 63.1 L112 65.1 L115 63.59 L118.77 62.24 L123.31 61.06 L128.63 60.05 L134.72 59.21 L141.58 58.53 L149.22 58.02 L157.63 57.68 L166.81 57.51 L176.77 57.51 L187.5 57.67 L199 58 L210.5 47 L91.5 42.5Z" fill="url(#a_tp_t)" stroke="none" stroke-width="1"/>
<path d="M199 58 L210.5 47 L210.5 61.7 L199 73.2Z" fill="#ead8a6" stroke="none" stroke-width="1"/>
<path d="M44.5 63.1 L112 65.1 L115 63.59 L118.77 62.24 L123.31 61.06 L128.63 60.05 L134.72 59.21 L141.58 58.53 L149.22 58.02 L157.63 57.68 L166.81 57.51 L176.77 57.51 L187.5 57.67 L199 58 L199 73.2 L187.5 72.72 L176.77 72.48 L166.81 72.49 L157.63 72.74 L149.22 73.24 L141.58 73.97 L134.72 74.95 L128.63 76.18 L123.31 77.64 L118.77 79.35 L115 81.3 L112 83.5 L44.5 79.9Z" fill="url(#a_tp_f)" stroke="none" stroke-width="1"/>
<path d="M44.5 49 L112 51.7 L115 50.06 L118.77 48.6 L123.31 47.32 L128.63 46.22 L134.72 45.31 L141.58 44.58 L149.22 44.03 L157.63 43.66 L166.81 43.47 L176.77 43.47 L187.5 43.64 L199 44 L211.7 34.5 L91.2 28.3Z" fill="url(#a_lif_t)" stroke="none" stroke-width="1"/>
<path d="M199 44 L211.7 34.5 L211.7 39.8 L199 49.3Z" fill="#3b3f4e" stroke="none" stroke-width="1"/>
<path d="M44.5 49 L112 51.7 L115 50.06 L118.77 48.6 L123.31 47.32 L128.63 46.22 L134.72 45.31 L141.58 44.58 L149.22 44.03 L157.63 43.66 L166.81 43.47 L176.77 43.47 L187.5 43.64 L199 44 L199 49.3 L187.5 48.88 L176.77 48.67 L166.81 48.67 L157.63 48.9 L149.22 49.33 L141.58 49.98 L134.72 50.85 L128.63 51.93 L123.31 53.22 L118.77 54.73 L115 56.46 L112 58.4 L44.5 55.2Z" fill="url(#a_lif_f)" stroke="none" stroke-width="1"/>
<path d="M44.5 49 L91.2 28.3 L211.7 34.5" fill="none" stroke="#d6d2d0" stroke-width="0.6"/>
<path d="M112.3 52 C115 50.5 119 49.3 124 48.6 L124 54.5 C119 55.3 115 56.5 112.3 58.4 Z" fill="#b89a62" stroke="none" stroke-width="1" opacity="0.85"/>
<line x1="211.5" y1="39.3" x2="271" y2="39.3" stroke="#383838" stroke-width="1.2" stroke-dasharray="4,3.2"/>
<line x1="211" y1="60.4" x2="271" y2="60.4" stroke="#383838" stroke-width="1.2" stroke-dasharray="4,3.2"/>
<line x1="211" y1="73.3" x2="271" y2="73.3" stroke="#383838" stroke-width="1.2" stroke-dasharray="4,3.2"/>
<line x1="211" y1="83.5" x2="271" y2="83.5" stroke="#383838" stroke-width="1.2" stroke-dasharray="4,3.2"/>
<line x1="210" y1="98.2" x2="271" y2="98.2" stroke="#383838" stroke-width="1.2" stroke-dasharray="4,3.2"/>
<line x1="203" y1="126.8" x2="271" y2="126.8" stroke="#383838" stroke-width="1.2" stroke-dasharray="4,3.2"/>
<text x="238.6" y="10.7" font-size="15.5" font-weight="bold" fill="#000">b</text>
<defs>
<linearGradient id="b0" x1="0" y1="0" x2="0" y2="1"><stop offset="0" stop-color="#2a2a2a"/><stop offset="0.7" stop-color="#363636"/><stop offset="1" stop-color="#4a4a4a"/></linearGradient>
<linearGradient id="b1" x1="0" y1="0" x2="0" y2="1"><stop offset="0" stop-color="#929492"/><stop offset="0.18" stop-color="#aaacaa"/><stop offset="0.45" stop-color="#a2a4a2"/><stop offset="0.78" stop-color="#929492"/><stop offset="1" stop-color="#808280"/></linearGradient>
<linearGradient id="b1r" x1="0" y1="0" x2="1" y2="0"><stop offset="0" stop-color="#000" stop-opacity="0"/><stop offset="0.5" stop-color="#000" stop-opacity="0.02"/><stop offset="1" stop-color="#000" stop-opacity="0.28"/></linearGradient>
<linearGradient id="b2" x1="0" y1="0" x2="1" y2="0"><stop offset="0" stop-color="#b4aa98"/><stop offset="0.35" stop-color="#b4b0a6"/><stop offset="0.6" stop-color="#bcbcba"/><stop offset="1" stop-color="#c2c2c2"/></linearGradient>
<linearGradient id="b3" x1="0" y1="0" x2="1" y2="0"><stop offset="0" stop-color="#6a9a6c"/><stop offset="0.3" stop-color="#67886a"/><stop offset="0.55" stop-color="#606662"/><stop offset="1" stop-color="#5c5d5d"/></linearGradient>
<linearGradient id="b4" x1="0" y1="0" x2="1" y2="0"><stop offset="0" stop-color="#689080"/><stop offset="0.3" stop-color="#658078"/><stop offset="0.55" stop-color="#606664"/><stop offset="1" stop-color="#5c5d5d"/></linearGradient>
<linearGradient id="b5" x1="0" y1="0" x2="1" y2="0"><stop offset="0" stop-color="#688a92"/><stop offset="0.3" stop-color="#657a82"/><stop offset="0.55" stop-color="#616668"/><stop offset="1" stop-color="#5f5f5f"/></linearGradient>
<linearGradient id="b6" x1="0" y1="0" x2="1" y2="0"><stop offset="0" stop-color="#8c95a9"/><stop offset="0.35" stop-color="#828a9c"/><stop offset="0.6" stop-color="#77797f"/><stop offset="1" stop-color="#737373"/></linearGradient>
<linearGradient id="b6v" x1="0" y1="0" x2="0" y2="1"><stop offset="0" stop-color="#000" stop-opacity="0.06"/><stop offset="0.5" stop-color="#fff" stop-opacity="0"/><stop offset="1" stop-color="#fff" stop-opacity="0.16"/></linearGradient>
<filter id="bblur" x="0" y="0" width="1" height="1"><feGaussianBlur stdDeviation="0.8"/></filter>
<clipPath id="bclip"><rect x="271" y="14" width="172" height="132.6"/></clipPath>
</defs>
<g clip-path="url(#bclip)"><g filter="url(#bblur)">
<rect x="268" y="11" width="178" height="138.6" fill="#707070" stroke="none" stroke-width="1"/>
<rect x="268" y="11" width="178" height="12" fill="url(#b0)" stroke="none" stroke-width="1"/>
<rect x="268" y="22.8" width="178" height="28" fill="url(#b1)" stroke="none" stroke-width="1"/>
<rect x="330" y="33" width="116" height="17" fill="url(#b1r)"/>
<path d="M268 22.8 C320 22.5 350 21.8 380 23.2 S430 24.8 446 23.8 L446 20 L268 20Z" fill="#3c3c3c"/>
<rect x="268" y="50.5" width="178" height="2.5" fill="#7c7c7a" stroke="none" stroke-width="1"/>
<rect x="268" y="53" width="178" height="15.5" fill="url(#b2)" stroke="none" stroke-width="1"/>
<rect x="268" y="68.5" width="178" height="8.6" fill="url(#b3)" stroke="none" stroke-width="1"/>
<rect x="268" y="77.1" width="178" height="12.6" fill="url(#b4)" stroke="none" stroke-width="1"/>
<rect x="268" y="89.7" width="178" height="16.7" fill="url(#b5)" stroke="none" stroke-width="1"/>
<rect x="268" y="106.4" width="178" height="44" fill="url(#b6)" stroke="none" stroke-width="1"/>
<rect x="268" y="106.4" width="178" height="44" fill="url(#b6v)" stroke="none" stroke-width="1"/>
<ellipse cx="405" cy="57.5" rx="45" ry="2.6" fill="#d2d2d2" opacity="0.55"/>
<ellipse cx="320" cy="28" rx="50" ry="3.5" fill="#b0b2b0" opacity="0.45"/>
<ellipse cx="418" cy="42" rx="40" ry="6" fill="#666" opacity="0.4"/>
<ellipse cx="425" cy="140" rx="30" ry="6" fill="#a0a0a0" opacity="0.35"/>
</g>
<defs><linearGradient id="bl" x1="0" y1="0" x2="1" y2="0"><stop offset="0" stop-color="#a8c0b4" stop-opacity="0.5"/><stop offset="0.5" stop-color="#a8c0b4" stop-opacity="0.15"/><stop offset="0.7" stop-color="#a8c0b4" stop-opacity="0"/></linearGradient></defs>
<rect x="271" y="76.75" width="172" height="0.7" fill="url(#bl)"/>
<rect x="271" y="89.35" width="172" height="0.7" fill="url(#bl)"/>
<rect x="271" y="106.05" width="172" height="0.7" fill="url(#bl)"/>
</g>
<text x="276.8" y="42" font-size="8.8" fill="#f2f2f2">LiF/ Al</text>
<text x="276.8" y="63.2" font-size="8.8" fill="#f2f2f2">TPBi</text>
<text x="276.8" y="75.6" font-size="8.8" fill="#f2f2f2">QD film</text>
<text x="276.8" y="85.8" font-size="8.8" fill="#f2f2f2">Poly-TPD</text>
<text x="276.8" y="100.8" font-size="8.8" fill="#f2f2f2">PEDOT: PSS</text>
<text x="276.8" y="129.5" font-size="8.8" fill="#f2f2f2">ITO</text>
<text x="418.3" y="131.2" font-size="8.8" text-anchor="middle" fill="#f2f2f2">100 nm</text>
<rect x="402" y="136.3" width="32" height="1.7" fill="#f4f4f4" stroke="none" stroke-width="1"/>
<text x="458.3" y="10.7" font-size="15.5" font-weight="bold" fill="#000">c</text>
<defs><filter id="ds" x="-20%" y="-20%" width="150%" height="150%"><feDropShadow dx="1" dy="1" stdDeviation="0.7" flood-color="#000" flood-opacity="0.35"/></filter></defs>
<line x1="502" y1="17" x2="502" y2="146.1" stroke="#231f20" stroke-width="1.1"/>
<path d="M502 12.6 L504 19.2 L500 19.2 Z" fill="#231f20" stroke="none" stroke-width="1"/>
<line x1="502" y1="36.8" x2="504.8" y2="36.8" stroke="#231f20" stroke-width="1"/>
<text x="496.5" y="40.4" font-size="10.3" text-anchor="end" fill="#231f20" stroke="#231f20" stroke-width="0.15">&#8722;3</text>
<line x1="502" y1="65.17" x2="504.8" y2="65.17" stroke="#231f20" stroke-width="1"/>
<text x="496.5" y="68.77" font-size="10.3" text-anchor="end" fill="#231f20" stroke="#231f20" stroke-width="0.15">&#8722;4</text>
<line x1="502" y1="93.54" x2="504.8" y2="93.54" stroke="#231f20" stroke-width="1"/>
<text x="496.5" y="97.14" font-size="10.3" text-anchor="end" fill="#231f20" stroke="#231f20" stroke-width="0.15">&#8722;5</text>
<line x1="502" y1="121.91" x2="504.8" y2="121.91" stroke="#231f20" stroke-width="1"/>
<text x="496.5" y="125.51" font-size="10.3" text-anchor="end" fill="#231f20" stroke="#231f20" stroke-width="0.15">&#8722;6</text>
<text x="476" y="79" font-size="10.3" text-anchor="middle" fill="#231f20" stroke="#231f20" stroke-width="0.15" transform="rotate(-90 476 79)">Energy (eV)</text>
<rect x="509.3" y="88.8" width="18.4" height="3" fill="#fff" stroke="#222" stroke-width="0.9" rx="1" filter="url(#ds)"/>
<text x="518.9" y="84.2" font-size="9" text-anchor="middle" fill="#231f20">ITO</text>
<text x="519.9" y="101" font-size="9" text-anchor="middle" fill="#231f20">&#8722;5.0</text>
<rect x="532.1" y="38.5" width="17.7" height="59.3" fill="#2e4858" stroke="#1f2b33" stroke-width="0.8" filter="url(#ds)"/>
<text x="545.1" y="69.4" font-size="8.7" text-anchor="middle" fill="#e8eef2" transform="rotate(-90 545.1 69.4)">PEDOT: PSS</text>
<text x="542.3" y="107.7" font-size="9" text-anchor="middle" fill="#231f20">&#8722;5.2</text>
<rect x="553.3" y="18.9" width="18.6" height="83.6" fill="#17767c" stroke="#10484c" stroke-width="0.8" filter="url(#ds)"/>
<text x="565.6" y="60.5" font-size="8.9" text-anchor="middle" fill="#e8f4f4" transform="rotate(-90 565.6 60.5)">Poly-TPD</text>
<text x="564" y="111.4" font-size="9" text-anchor="middle" fill="#231f20">&#8722;5.4</text>
<rect x="574.5" y="29.3" width="50" height="101.5" fill="none" stroke="#6cc86c" stroke-width="1" rx="5" stroke-dasharray="3,2.2"/>
<text x="599.2" y="26.4" font-size="9" text-anchor="middle" fill="#231f20">QD film</text>
<rect x="579.4" y="49.4" width="18.1" height="66.9" fill="#74c774" stroke="#1e3a1e" stroke-width="0.8" filter="url(#ds)"/>
<text x="591.7" y="84.3" font-size="9" text-anchor="middle" fill="#111" transform="rotate(-90 591.7 84.3)">Pristine</text>
<text x="588.3" y="45.7" font-size="9" text-anchor="middle" fill="#231f20">&#8722;3.5</text>
<text x="588.3" y="125.5" font-size="9" text-anchor="middle" fill="#231f20">&#8722;5.8</text>
<rect x="601.6" y="45.7" width="18.1" height="64.5" fill="#45b045" stroke="#1e3a1e" stroke-width="0.8" filter="url(#ds)"/>
<text x="613.9" y="78.2" font-size="9" text-anchor="middle" fill="#111" transform="rotate(-90 613.9 78.2)">Target</text>
<text x="611.3" y="41.4" font-size="9" text-anchor="middle" fill="#231f20">&#8722;3.4</text>
<text x="611.3" y="119.9" font-size="9" text-anchor="middle" fill="#231f20">&#8722;5.7</text>
<rect x="627.6" y="30.5" width="18.1" height="95.8" fill="#fdd383" stroke="#3a3020" stroke-width="0.8" filter="url(#ds)"/>
<text x="639.9" y="78.2" font-size="9" text-anchor="middle" fill="#111" transform="rotate(-90 639.9 78.2)">TPBi</text>
<text x="636.7" y="25.7" font-size="9" text-anchor="middle" fill="#231f20">&#8722;2.7</text>
<rect x="653.6" y="37.3" width="18.6" height="3.4" fill="#7a7a7a" stroke="#333" stroke-width="0.8" rx="1" filter="url(#ds)"/>
<text x="662" y="32.9" font-size="9" text-anchor="middle" fill="#231f20">&#8722;3.0</text>
<text x="662" y="50.6" font-size="9" text-anchor="middle" fill="#231f20">LiF/ Al</text>
</svg>
</body></html>
